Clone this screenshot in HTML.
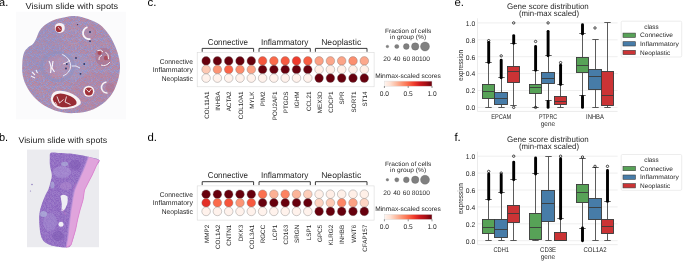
<!DOCTYPE html>
<html><head><meta charset="utf-8"><style>
html,body{margin:0;padding:0;background:#fff;width:685px;height:264px;overflow:hidden;}
svg{display:block;font-family:"Liberation Sans", sans-serif;will-change:transform;text-rendering:geometricPrecision;}
</style></head><body>
<svg width="685" height="264" viewBox="0 0 685 264">
<defs>
<linearGradient id="reds" x1="0" x2="1" y1="0" y2="0">
<stop offset="0" stop-color="#fff5f0"/><stop offset="0.125" stop-color="#fee0d2"/><stop offset="0.25" stop-color="#fcbba1"/>
<stop offset="0.375" stop-color="#fc9272"/><stop offset="0.5" stop-color="#fb6a4a"/><stop offset="0.625" stop-color="#ef3b2c"/>
<stop offset="0.75" stop-color="#cb181d"/><stop offset="0.875" stop-color="#a50f15"/><stop offset="1" stop-color="#67000d"/>
</linearGradient>
<pattern id="spots" patternUnits="userSpaceOnUse" width="16" height="16" x="0" y="0"><rect width="16" height="16" fill="#ae96bc"/><rect x="0" y="0" width="1" height="1" fill="#b88aa4"/><rect x="1" y="0" width="1" height="1" fill="#a690b8"/><rect x="2" y="0" width="1" height="1" fill="#a09ac8"/><rect x="3" y="0" width="1" height="1" fill="#9490c8"/><rect x="4" y="0" width="1" height="1" fill="#b4849e"/><rect x="5" y="0" width="1" height="1" fill="#b4849e"/><rect x="6" y="0" width="1" height="1" fill="#b88aa4"/><rect x="7" y="0" width="1" height="1" fill="#9490c8"/><rect x="8" y="0" width="1" height="1" fill="#ac90b0"/><rect x="9" y="0" width="1" height="1" fill="#9490c8"/><rect x="10" y="0" width="1" height="1" fill="#b4849e"/><rect x="11" y="0" width="1" height="1" fill="#a09ac8"/><rect x="12" y="0" width="1" height="1" fill="#a09ac8"/><rect x="13" y="0" width="1" height="1" fill="#b4849e"/><rect x="14" y="0" width="1" height="1" fill="#ac90b0"/><rect x="15" y="0" width="1" height="1" fill="#b4849e"/><rect x="0" y="1" width="1" height="1" fill="#a09ac8"/><rect x="1" y="1" width="1" height="1" fill="#9490c8"/><rect x="2" y="1" width="1" height="1" fill="#b4849e"/><rect x="3" y="1" width="1" height="1" fill="#ac90b0"/><rect x="4" y="1" width="1" height="1" fill="#9490c8"/><rect x="5" y="1" width="1" height="1" fill="#a09ac8"/><rect x="6" y="1" width="1" height="1" fill="#9490c8"/><rect x="7" y="1" width="1" height="1" fill="#ac90b0"/><rect x="8" y="1" width="1" height="1" fill="#9490c8"/><rect x="9" y="1" width="1" height="1" fill="#a690b8"/><rect x="10" y="1" width="1" height="1" fill="#9490c4"/><rect x="11" y="1" width="1" height="1" fill="#a09ac8"/><rect x="12" y="1" width="1" height="1" fill="#a690b8"/><rect x="13" y="1" width="1" height="1" fill="#b4849e"/><rect x="14" y="1" width="1" height="1" fill="#9490c4"/><rect x="15" y="1" width="1" height="1" fill="#a690b8"/><rect x="0" y="2" width="1" height="1" fill="#b4849e"/><rect x="1" y="2" width="1" height="1" fill="#ac90b0"/><rect x="2" y="2" width="1" height="1" fill="#b88aa4"/><rect x="3" y="2" width="1" height="1" fill="#b4849e"/><rect x="4" y="2" width="1" height="1" fill="#b4849e"/><rect x="5" y="2" width="1" height="1" fill="#9490c8"/><rect x="6" y="2" width="1" height="1" fill="#ac90b0"/><rect x="7" y="2" width="1" height="1" fill="#ae8cac"/><rect x="8" y="2" width="1" height="1" fill="#a09ac8"/><rect x="9" y="2" width="1" height="1" fill="#b88aa4"/><rect x="10" y="2" width="1" height="1" fill="#ae8cac"/><rect x="11" y="2" width="1" height="1" fill="#ae8cac"/><rect x="12" y="2" width="1" height="1" fill="#b88aa4"/><rect x="13" y="2" width="1" height="1" fill="#9490c4"/><rect x="14" y="2" width="1" height="1" fill="#ac90b0"/><rect x="15" y="2" width="1" height="1" fill="#a690b8"/><rect x="0" y="3" width="1" height="1" fill="#ac90b0"/><rect x="1" y="3" width="1" height="1" fill="#b4849e"/><rect x="2" y="3" width="1" height="1" fill="#9490c4"/><rect x="3" y="3" width="1" height="1" fill="#ae8cac"/><rect x="4" y="3" width="1" height="1" fill="#b88aa4"/><rect x="5" y="3" width="1" height="1" fill="#ae8cac"/><rect x="6" y="3" width="1" height="1" fill="#9490c4"/><rect x="7" y="3" width="1" height="1" fill="#b4849e"/><rect x="8" y="3" width="1" height="1" fill="#b4849e"/><rect x="9" y="3" width="1" height="1" fill="#a09ac8"/><rect x="10" y="3" width="1" height="1" fill="#a690b8"/><rect x="11" y="3" width="1" height="1" fill="#b88aa4"/><rect x="12" y="3" width="1" height="1" fill="#a690b8"/><rect x="13" y="3" width="1" height="1" fill="#ae8cac"/><rect x="14" y="3" width="1" height="1" fill="#a09ac8"/><rect x="15" y="3" width="1" height="1" fill="#9490c8"/><rect x="0" y="4" width="1" height="1" fill="#b4849e"/><rect x="1" y="4" width="1" height="1" fill="#b88aa4"/><rect x="2" y="4" width="1" height="1" fill="#b88aa4"/><rect x="3" y="4" width="1" height="1" fill="#b88aa4"/><rect x="4" y="4" width="1" height="1" fill="#ae8cac"/><rect x="5" y="4" width="1" height="1" fill="#ae8cac"/><rect x="6" y="4" width="1" height="1" fill="#b4849e"/><rect x="7" y="4" width="1" height="1" fill="#b4849e"/><rect x="8" y="4" width="1" height="1" fill="#9490c4"/><rect x="9" y="4" width="1" height="1" fill="#ae8cac"/><rect x="10" y="4" width="1" height="1" fill="#b4849e"/><rect x="11" y="4" width="1" height="1" fill="#9490c8"/><rect x="12" y="4" width="1" height="1" fill="#9490c4"/><rect x="13" y="4" width="1" height="1" fill="#ae8cac"/><rect x="14" y="4" width="1" height="1" fill="#9490c4"/><rect x="15" y="4" width="1" height="1" fill="#a09ac8"/><rect x="0" y="5" width="1" height="1" fill="#b88aa4"/><rect x="1" y="5" width="1" height="1" fill="#9490c8"/><rect x="2" y="5" width="1" height="1" fill="#ae8cac"/><rect x="3" y="5" width="1" height="1" fill="#b88aa4"/><rect x="4" y="5" width="1" height="1" fill="#a690b8"/><rect x="5" y="5" width="1" height="1" fill="#b4849e"/><rect x="6" y="5" width="1" height="1" fill="#ae8cac"/><rect x="7" y="5" width="1" height="1" fill="#9490c8"/><rect x="8" y="5" width="1" height="1" fill="#ac90b0"/><rect x="9" y="5" width="1" height="1" fill="#9490c4"/><rect x="10" y="5" width="1" height="1" fill="#a690b8"/><rect x="11" y="5" width="1" height="1" fill="#ac90b0"/><rect x="12" y="5" width="1" height="1" fill="#a09ac8"/><rect x="13" y="5" width="1" height="1" fill="#a09ac8"/><rect x="14" y="5" width="1" height="1" fill="#ae8cac"/><rect x="15" y="5" width="1" height="1" fill="#b4849e"/><rect x="0" y="6" width="1" height="1" fill="#a690b8"/><rect x="1" y="6" width="1" height="1" fill="#ae8cac"/><rect x="2" y="6" width="1" height="1" fill="#a09ac8"/><rect x="3" y="6" width="1" height="1" fill="#9490c4"/><rect x="4" y="6" width="1" height="1" fill="#a690b8"/><rect x="5" y="6" width="1" height="1" fill="#a09ac8"/><rect x="6" y="6" width="1" height="1" fill="#9490c4"/><rect x="7" y="6" width="1" height="1" fill="#a09ac8"/><rect x="8" y="6" width="1" height="1" fill="#b88aa4"/><rect x="9" y="6" width="1" height="1" fill="#a09ac8"/><rect x="10" y="6" width="1" height="1" fill="#ac90b0"/><rect x="11" y="6" width="1" height="1" fill="#a690b8"/><rect x="12" y="6" width="1" height="1" fill="#b4849e"/><rect x="13" y="6" width="1" height="1" fill="#a690b8"/><rect x="14" y="6" width="1" height="1" fill="#a690b8"/><rect x="15" y="6" width="1" height="1" fill="#ac90b0"/><rect x="0" y="7" width="1" height="1" fill="#ac90b0"/><rect x="1" y="7" width="1" height="1" fill="#9490c8"/><rect x="2" y="7" width="1" height="1" fill="#ae8cac"/><rect x="3" y="7" width="1" height="1" fill="#a690b8"/><rect x="4" y="7" width="1" height="1" fill="#9490c4"/><rect x="5" y="7" width="1" height="1" fill="#9490c4"/><rect x="6" y="7" width="1" height="1" fill="#9490c8"/><rect x="7" y="7" width="1" height="1" fill="#a690b8"/><rect x="8" y="7" width="1" height="1" fill="#a09ac8"/><rect x="9" y="7" width="1" height="1" fill="#b88aa4"/><rect x="10" y="7" width="1" height="1" fill="#b88aa4"/><rect x="11" y="7" width="1" height="1" fill="#a690b8"/><rect x="12" y="7" width="1" height="1" fill="#9490c8"/><rect x="13" y="7" width="1" height="1" fill="#ae8cac"/><rect x="14" y="7" width="1" height="1" fill="#a09ac8"/><rect x="15" y="7" width="1" height="1" fill="#a09ac8"/><rect x="0" y="8" width="1" height="1" fill="#a09ac8"/><rect x="1" y="8" width="1" height="1" fill="#a09ac8"/><rect x="2" y="8" width="1" height="1" fill="#b4849e"/><rect x="3" y="8" width="1" height="1" fill="#ae8cac"/><rect x="4" y="8" width="1" height="1" fill="#a09ac8"/><rect x="5" y="8" width="1" height="1" fill="#9490c8"/><rect x="6" y="8" width="1" height="1" fill="#ac90b0"/><rect x="7" y="8" width="1" height="1" fill="#b4849e"/><rect x="8" y="8" width="1" height="1" fill="#ac90b0"/><rect x="9" y="8" width="1" height="1" fill="#ae8cac"/><rect x="10" y="8" width="1" height="1" fill="#a690b8"/><rect x="11" y="8" width="1" height="1" fill="#b4849e"/><rect x="12" y="8" width="1" height="1" fill="#b88aa4"/><rect x="13" y="8" width="1" height="1" fill="#9490c8"/><rect x="14" y="8" width="1" height="1" fill="#b4849e"/><rect x="15" y="8" width="1" height="1" fill="#9490c8"/><rect x="0" y="9" width="1" height="1" fill="#a690b8"/><rect x="1" y="9" width="1" height="1" fill="#b4849e"/><rect x="2" y="9" width="1" height="1" fill="#b88aa4"/><rect x="3" y="9" width="1" height="1" fill="#9490c8"/><rect x="4" y="9" width="1" height="1" fill="#b4849e"/><rect x="5" y="9" width="1" height="1" fill="#ac90b0"/><rect x="6" y="9" width="1" height="1" fill="#a09ac8"/><rect x="7" y="9" width="1" height="1" fill="#a690b8"/><rect x="8" y="9" width="1" height="1" fill="#9490c4"/><rect x="9" y="9" width="1" height="1" fill="#b88aa4"/><rect x="10" y="9" width="1" height="1" fill="#b88aa4"/><rect x="11" y="9" width="1" height="1" fill="#ae8cac"/><rect x="12" y="9" width="1" height="1" fill="#b4849e"/><rect x="13" y="9" width="1" height="1" fill="#b4849e"/><rect x="14" y="9" width="1" height="1" fill="#ae8cac"/><rect x="15" y="9" width="1" height="1" fill="#ae8cac"/><rect x="0" y="10" width="1" height="1" fill="#ae8cac"/><rect x="1" y="10" width="1" height="1" fill="#ae8cac"/><rect x="2" y="10" width="1" height="1" fill="#9490c4"/><rect x="3" y="10" width="1" height="1" fill="#b4849e"/><rect x="4" y="10" width="1" height="1" fill="#a690b8"/><rect x="5" y="10" width="1" height="1" fill="#b4849e"/><rect x="6" y="10" width="1" height="1" fill="#b88aa4"/><rect x="7" y="10" width="1" height="1" fill="#9490c4"/><rect x="8" y="10" width="1" height="1" fill="#ae8cac"/><rect x="9" y="10" width="1" height="1" fill="#a690b8"/><rect x="10" y="10" width="1" height="1" fill="#9490c8"/><rect x="11" y="10" width="1" height="1" fill="#ac90b0"/><rect x="12" y="10" width="1" height="1" fill="#b88aa4"/><rect x="13" y="10" width="1" height="1" fill="#a690b8"/><rect x="14" y="10" width="1" height="1" fill="#9490c8"/><rect x="15" y="10" width="1" height="1" fill="#9490c4"/><rect x="0" y="11" width="1" height="1" fill="#b4849e"/><rect x="1" y="11" width="1" height="1" fill="#9490c4"/><rect x="2" y="11" width="1" height="1" fill="#b88aa4"/><rect x="3" y="11" width="1" height="1" fill="#a690b8"/><rect x="4" y="11" width="1" height="1" fill="#b88aa4"/><rect x="5" y="11" width="1" height="1" fill="#ac90b0"/><rect x="6" y="11" width="1" height="1" fill="#b88aa4"/><rect x="7" y="11" width="1" height="1" fill="#ac90b0"/><rect x="8" y="11" width="1" height="1" fill="#ac90b0"/><rect x="9" y="11" width="1" height="1" fill="#ac90b0"/><rect x="10" y="11" width="1" height="1" fill="#a09ac8"/><rect x="11" y="11" width="1" height="1" fill="#ac90b0"/><rect x="12" y="11" width="1" height="1" fill="#ac90b0"/><rect x="13" y="11" width="1" height="1" fill="#ae8cac"/><rect x="14" y="11" width="1" height="1" fill="#b88aa4"/><rect x="15" y="11" width="1" height="1" fill="#9490c8"/><rect x="0" y="12" width="1" height="1" fill="#9490c8"/><rect x="1" y="12" width="1" height="1" fill="#9490c4"/><rect x="2" y="12" width="1" height="1" fill="#ae8cac"/><rect x="3" y="12" width="1" height="1" fill="#9490c4"/><rect x="4" y="12" width="1" height="1" fill="#ac90b0"/><rect x="5" y="12" width="1" height="1" fill="#b88aa4"/><rect x="6" y="12" width="1" height="1" fill="#ae8cac"/><rect x="7" y="12" width="1" height="1" fill="#b88aa4"/><rect x="8" y="12" width="1" height="1" fill="#b88aa4"/><rect x="9" y="12" width="1" height="1" fill="#b4849e"/><rect x="10" y="12" width="1" height="1" fill="#ac90b0"/><rect x="11" y="12" width="1" height="1" fill="#b4849e"/><rect x="12" y="12" width="1" height="1" fill="#ac90b0"/><rect x="13" y="12" width="1" height="1" fill="#ae8cac"/><rect x="14" y="12" width="1" height="1" fill="#ac90b0"/><rect x="15" y="12" width="1" height="1" fill="#b88aa4"/><rect x="0" y="13" width="1" height="1" fill="#ac90b0"/><rect x="1" y="13" width="1" height="1" fill="#ae8cac"/><rect x="2" y="13" width="1" height="1" fill="#9490c8"/><rect x="3" y="13" width="1" height="1" fill="#ae8cac"/><rect x="4" y="13" width="1" height="1" fill="#b88aa4"/><rect x="5" y="13" width="1" height="1" fill="#b4849e"/><rect x="6" y="13" width="1" height="1" fill="#b4849e"/><rect x="7" y="13" width="1" height="1" fill="#a09ac8"/><rect x="8" y="13" width="1" height="1" fill="#ac90b0"/><rect x="9" y="13" width="1" height="1" fill="#ae8cac"/><rect x="10" y="13" width="1" height="1" fill="#a690b8"/><rect x="11" y="13" width="1" height="1" fill="#a09ac8"/><rect x="12" y="13" width="1" height="1" fill="#b88aa4"/><rect x="13" y="13" width="1" height="1" fill="#b4849e"/><rect x="14" y="13" width="1" height="1" fill="#a09ac8"/><rect x="15" y="13" width="1" height="1" fill="#ae8cac"/><rect x="0" y="14" width="1" height="1" fill="#a09ac8"/><rect x="1" y="14" width="1" height="1" fill="#b4849e"/><rect x="2" y="14" width="1" height="1" fill="#a690b8"/><rect x="3" y="14" width="1" height="1" fill="#a690b8"/><rect x="4" y="14" width="1" height="1" fill="#a690b8"/><rect x="5" y="14" width="1" height="1" fill="#9490c8"/><rect x="6" y="14" width="1" height="1" fill="#a690b8"/><rect x="7" y="14" width="1" height="1" fill="#ae8cac"/><rect x="8" y="14" width="1" height="1" fill="#a690b8"/><rect x="9" y="14" width="1" height="1" fill="#ae8cac"/><rect x="10" y="14" width="1" height="1" fill="#b88aa4"/><rect x="11" y="14" width="1" height="1" fill="#a690b8"/><rect x="12" y="14" width="1" height="1" fill="#a690b8"/><rect x="13" y="14" width="1" height="1" fill="#9490c8"/><rect x="14" y="14" width="1" height="1" fill="#9490c8"/><rect x="15" y="14" width="1" height="1" fill="#b4849e"/><rect x="0" y="15" width="1" height="1" fill="#a690b8"/><rect x="1" y="15" width="1" height="1" fill="#a09ac8"/><rect x="2" y="15" width="1" height="1" fill="#ac90b0"/><rect x="3" y="15" width="1" height="1" fill="#ac90b0"/><rect x="4" y="15" width="1" height="1" fill="#9490c8"/><rect x="5" y="15" width="1" height="1" fill="#9490c4"/><rect x="6" y="15" width="1" height="1" fill="#ac90b0"/><rect x="7" y="15" width="1" height="1" fill="#9490c4"/><rect x="8" y="15" width="1" height="1" fill="#ac90b0"/><rect x="9" y="15" width="1" height="1" fill="#b88aa4"/><rect x="10" y="15" width="1" height="1" fill="#9490c4"/><rect x="11" y="15" width="1" height="1" fill="#a09ac8"/><rect x="12" y="15" width="1" height="1" fill="#a690b8"/><rect x="13" y="15" width="1" height="1" fill="#9490c8"/><rect x="14" y="15" width="1" height="1" fill="#b88aa4"/><rect x="15" y="15" width="1" height="1" fill="#ae8cac"/></pattern><pattern id="spotsB" patternUnits="userSpaceOnUse" width="20" height="20" x="0" y="0"><rect width="20" height="20" fill="#8c6cc2"/><rect x="0" y="0" width="1" height="1" fill="#9070c2"/><rect x="1" y="0" width="1" height="1" fill="#9872c4"/><rect x="2" y="0" width="1" height="1" fill="#9872c4"/><rect x="3" y="0" width="1" height="1" fill="#8e68c0"/><rect x="4" y="0" width="1" height="1" fill="#9c7cc8"/><rect x="5" y="0" width="1" height="1" fill="#9872c4"/><rect x="6" y="0" width="1" height="1" fill="#8e68c0"/><rect x="7" y="0" width="1" height="1" fill="#9872c4"/><rect x="8" y="0" width="1" height="1" fill="#9872c4"/><rect x="9" y="0" width="1" height="1" fill="#9872c4"/><rect x="10" y="0" width="1" height="1" fill="#9c7cc8"/><rect x="11" y="0" width="1" height="1" fill="#9470c4"/><rect x="12" y="0" width="1" height="1" fill="#8e68c0"/><rect x="13" y="0" width="1" height="1" fill="#9470c4"/><rect x="14" y="0" width="1" height="1" fill="#9c7cc8"/><rect x="15" y="0" width="1" height="1" fill="#9470c4"/><rect x="16" y="0" width="1" height="1" fill="#8e68c0"/><rect x="17" y="0" width="1" height="1" fill="#8c66be"/><rect x="18" y="0" width="1" height="1" fill="#8c66be"/><rect x="19" y="0" width="1" height="1" fill="#9a78c8"/><rect x="0" y="1" width="1" height="1" fill="#8e68c0"/><rect x="1" y="1" width="1" height="1" fill="#9470c4"/><rect x="2" y="1" width="1" height="1" fill="#9c7cc8"/><rect x="3" y="1" width="1" height="1" fill="#8e68c0"/><rect x="4" y="1" width="1" height="1" fill="#9470c4"/><rect x="5" y="1" width="1" height="1" fill="#9c7cc8"/><rect x="6" y="1" width="1" height="1" fill="#9470c4"/><rect x="7" y="1" width="1" height="1" fill="#8c66be"/><rect x="8" y="1" width="1" height="1" fill="#9a78c8"/><rect x="9" y="1" width="1" height="1" fill="#9c7cc8"/><rect x="10" y="1" width="1" height="1" fill="#9c7cc8"/><rect x="11" y="1" width="1" height="1" fill="#8c66be"/><rect x="12" y="1" width="1" height="1" fill="#9a78c8"/><rect x="13" y="1" width="1" height="1" fill="#8c66be"/><rect x="14" y="1" width="1" height="1" fill="#9c7cc8"/><rect x="15" y="1" width="1" height="1" fill="#9872c4"/><rect x="16" y="1" width="1" height="1" fill="#9070c2"/><rect x="17" y="1" width="1" height="1" fill="#9470c4"/><rect x="18" y="1" width="1" height="1" fill="#9070c2"/><rect x="19" y="1" width="1" height="1" fill="#9c7cc8"/><rect x="0" y="2" width="1" height="1" fill="#9470c4"/><rect x="1" y="2" width="1" height="1" fill="#9470c4"/><rect x="2" y="2" width="1" height="1" fill="#8c66be"/><rect x="3" y="2" width="1" height="1" fill="#9070c2"/><rect x="4" y="2" width="1" height="1" fill="#9470c4"/><rect x="5" y="2" width="1" height="1" fill="#8c66be"/><rect x="6" y="2" width="1" height="1" fill="#9a78c8"/><rect x="7" y="2" width="1" height="1" fill="#9470c4"/><rect x="8" y="2" width="1" height="1" fill="#9872c4"/><rect x="9" y="2" width="1" height="1" fill="#9470c4"/><rect x="10" y="2" width="1" height="1" fill="#9872c4"/><rect x="11" y="2" width="1" height="1" fill="#9a78c8"/><rect x="12" y="2" width="1" height="1" fill="#9872c4"/><rect x="13" y="2" width="1" height="1" fill="#9c7cc8"/><rect x="14" y="2" width="1" height="1" fill="#8c66be"/><rect x="15" y="2" width="1" height="1" fill="#9470c4"/><rect x="16" y="2" width="1" height="1" fill="#9070c2"/><rect x="17" y="2" width="1" height="1" fill="#9c7cc8"/><rect x="18" y="2" width="1" height="1" fill="#9872c4"/><rect x="19" y="2" width="1" height="1" fill="#8c66be"/><rect x="0" y="3" width="1" height="1" fill="#9872c4"/><rect x="1" y="3" width="1" height="1" fill="#9070c2"/><rect x="2" y="3" width="1" height="1" fill="#9070c2"/><rect x="3" y="3" width="1" height="1" fill="#9470c4"/><rect x="4" y="3" width="1" height="1" fill="#9070c2"/><rect x="5" y="3" width="1" height="1" fill="#8c66be"/><rect x="6" y="3" width="1" height="1" fill="#9470c4"/><rect x="7" y="3" width="1" height="1" fill="#9470c4"/><rect x="8" y="3" width="1" height="1" fill="#9470c4"/><rect x="9" y="3" width="1" height="1" fill="#9470c4"/><rect x="10" y="3" width="1" height="1" fill="#8e68c0"/><rect x="11" y="3" width="1" height="1" fill="#9470c4"/><rect x="12" y="3" width="1" height="1" fill="#9c7cc8"/><rect x="13" y="3" width="1" height="1" fill="#9c7cc8"/><rect x="14" y="3" width="1" height="1" fill="#8e68c0"/><rect x="15" y="3" width="1" height="1" fill="#9070c2"/><rect x="16" y="3" width="1" height="1" fill="#9470c4"/><rect x="17" y="3" width="1" height="1" fill="#9a78c8"/><rect x="18" y="3" width="1" height="1" fill="#9470c4"/><rect x="19" y="3" width="1" height="1" fill="#9470c4"/><rect x="0" y="4" width="1" height="1" fill="#8c66be"/><rect x="1" y="4" width="1" height="1" fill="#9470c4"/><rect x="2" y="4" width="1" height="1" fill="#9470c4"/><rect x="3" y="4" width="1" height="1" fill="#9a78c8"/><rect x="4" y="4" width="1" height="1" fill="#9a78c8"/><rect x="5" y="4" width="1" height="1" fill="#8e68c0"/><rect x="6" y="4" width="1" height="1" fill="#9872c4"/><rect x="7" y="4" width="1" height="1" fill="#9a78c8"/><rect x="8" y="4" width="1" height="1" fill="#9872c4"/><rect x="9" y="4" width="1" height="1" fill="#9070c2"/><rect x="10" y="4" width="1" height="1" fill="#9a78c8"/><rect x="11" y="4" width="1" height="1" fill="#9070c2"/><rect x="12" y="4" width="1" height="1" fill="#9872c4"/><rect x="13" y="4" width="1" height="1" fill="#9c7cc8"/><rect x="14" y="4" width="1" height="1" fill="#9470c4"/><rect x="15" y="4" width="1" height="1" fill="#9470c4"/><rect x="16" y="4" width="1" height="1" fill="#9a78c8"/><rect x="17" y="4" width="1" height="1" fill="#8e68c0"/><rect x="18" y="4" width="1" height="1" fill="#9872c4"/><rect x="19" y="4" width="1" height="1" fill="#9070c2"/><rect x="0" y="5" width="1" height="1" fill="#9470c4"/><rect x="1" y="5" width="1" height="1" fill="#9a78c8"/><rect x="2" y="5" width="1" height="1" fill="#8e68c0"/><rect x="3" y="5" width="1" height="1" fill="#9470c4"/><rect x="4" y="5" width="1" height="1" fill="#9a78c8"/><rect x="5" y="5" width="1" height="1" fill="#9470c4"/><rect x="6" y="5" width="1" height="1" fill="#8c66be"/><rect x="7" y="5" width="1" height="1" fill="#9470c4"/><rect x="8" y="5" width="1" height="1" fill="#9a78c8"/><rect x="9" y="5" width="1" height="1" fill="#9470c4"/><rect x="10" y="5" width="1" height="1" fill="#9c7cc8"/><rect x="11" y="5" width="1" height="1" fill="#8e68c0"/><rect x="12" y="5" width="1" height="1" fill="#9470c4"/><rect x="13" y="5" width="1" height="1" fill="#9070c2"/><rect x="14" y="5" width="1" height="1" fill="#9a78c8"/><rect x="15" y="5" width="1" height="1" fill="#9872c4"/><rect x="16" y="5" width="1" height="1" fill="#8e68c0"/><rect x="17" y="5" width="1" height="1" fill="#8c66be"/><rect x="18" y="5" width="1" height="1" fill="#9470c4"/><rect x="19" y="5" width="1" height="1" fill="#9872c4"/><rect x="0" y="6" width="1" height="1" fill="#9a78c8"/><rect x="1" y="6" width="1" height="1" fill="#8e68c0"/><rect x="2" y="6" width="1" height="1" fill="#9872c4"/><rect x="3" y="6" width="1" height="1" fill="#8c66be"/><rect x="4" y="6" width="1" height="1" fill="#9a78c8"/><rect x="5" y="6" width="1" height="1" fill="#9a78c8"/><rect x="6" y="6" width="1" height="1" fill="#8c66be"/><rect x="7" y="6" width="1" height="1" fill="#9a78c8"/><rect x="8" y="6" width="1" height="1" fill="#9c7cc8"/><rect x="9" y="6" width="1" height="1" fill="#9872c4"/><rect x="10" y="6" width="1" height="1" fill="#9a78c8"/><rect x="11" y="6" width="1" height="1" fill="#9470c4"/><rect x="12" y="6" width="1" height="1" fill="#8e68c0"/><rect x="13" y="6" width="1" height="1" fill="#9a78c8"/><rect x="14" y="6" width="1" height="1" fill="#8e68c0"/><rect x="15" y="6" width="1" height="1" fill="#8e68c0"/><rect x="16" y="6" width="1" height="1" fill="#8e68c0"/><rect x="17" y="6" width="1" height="1" fill="#8c66be"/><rect x="18" y="6" width="1" height="1" fill="#9c7cc8"/><rect x="19" y="6" width="1" height="1" fill="#8c66be"/><rect x="0" y="7" width="1" height="1" fill="#9c7cc8"/><rect x="1" y="7" width="1" height="1" fill="#9470c4"/><rect x="2" y="7" width="1" height="1" fill="#9070c2"/><rect x="3" y="7" width="1" height="1" fill="#9c7cc8"/><rect x="4" y="7" width="1" height="1" fill="#9070c2"/><rect x="5" y="7" width="1" height="1" fill="#9a78c8"/><rect x="6" y="7" width="1" height="1" fill="#8c66be"/><rect x="7" y="7" width="1" height="1" fill="#8c66be"/><rect x="8" y="7" width="1" height="1" fill="#9470c4"/><rect x="9" y="7" width="1" height="1" fill="#8c66be"/><rect x="10" y="7" width="1" height="1" fill="#9872c4"/><rect x="11" y="7" width="1" height="1" fill="#9070c2"/><rect x="12" y="7" width="1" height="1" fill="#9470c4"/><rect x="13" y="7" width="1" height="1" fill="#8e68c0"/><rect x="14" y="7" width="1" height="1" fill="#9872c4"/><rect x="15" y="7" width="1" height="1" fill="#8e68c0"/><rect x="16" y="7" width="1" height="1" fill="#9470c4"/><rect x="17" y="7" width="1" height="1" fill="#9a78c8"/><rect x="18" y="7" width="1" height="1" fill="#9070c2"/><rect x="19" y="7" width="1" height="1" fill="#9872c4"/><rect x="0" y="8" width="1" height="1" fill="#8e68c0"/><rect x="1" y="8" width="1" height="1" fill="#9470c4"/><rect x="2" y="8" width="1" height="1" fill="#9070c2"/><rect x="3" y="8" width="1" height="1" fill="#9a78c8"/><rect x="4" y="8" width="1" height="1" fill="#8c66be"/><rect x="5" y="8" width="1" height="1" fill="#9a78c8"/><rect x="6" y="8" width="1" height="1" fill="#8e68c0"/><rect x="7" y="8" width="1" height="1" fill="#9c7cc8"/><rect x="8" y="8" width="1" height="1" fill="#9872c4"/><rect x="9" y="8" width="1" height="1" fill="#9872c4"/><rect x="10" y="8" width="1" height="1" fill="#9a78c8"/><rect x="11" y="8" width="1" height="1" fill="#9c7cc8"/><rect x="12" y="8" width="1" height="1" fill="#8e68c0"/><rect x="13" y="8" width="1" height="1" fill="#9a78c8"/><rect x="14" y="8" width="1" height="1" fill="#9470c4"/><rect x="15" y="8" width="1" height="1" fill="#9470c4"/><rect x="16" y="8" width="1" height="1" fill="#9470c4"/><rect x="17" y="8" width="1" height="1" fill="#8c66be"/><rect x="18" y="8" width="1" height="1" fill="#8e68c0"/><rect x="19" y="8" width="1" height="1" fill="#9a78c8"/><rect x="0" y="9" width="1" height="1" fill="#8c66be"/><rect x="1" y="9" width="1" height="1" fill="#9470c4"/><rect x="2" y="9" width="1" height="1" fill="#9872c4"/><rect x="3" y="9" width="1" height="1" fill="#8e68c0"/><rect x="4" y="9" width="1" height="1" fill="#9470c4"/><rect x="5" y="9" width="1" height="1" fill="#9070c2"/><rect x="6" y="9" width="1" height="1" fill="#9470c4"/><rect x="7" y="9" width="1" height="1" fill="#9c7cc8"/><rect x="8" y="9" width="1" height="1" fill="#9a78c8"/><rect x="9" y="9" width="1" height="1" fill="#8c66be"/><rect x="10" y="9" width="1" height="1" fill="#8c66be"/><rect x="11" y="9" width="1" height="1" fill="#8e68c0"/><rect x="12" y="9" width="1" height="1" fill="#9470c4"/><rect x="13" y="9" width="1" height="1" fill="#9a78c8"/><rect x="14" y="9" width="1" height="1" fill="#9470c4"/><rect x="15" y="9" width="1" height="1" fill="#9872c4"/><rect x="16" y="9" width="1" height="1" fill="#9070c2"/><rect x="17" y="9" width="1" height="1" fill="#8e68c0"/><rect x="18" y="9" width="1" height="1" fill="#9070c2"/><rect x="19" y="9" width="1" height="1" fill="#8e68c0"/><rect x="0" y="10" width="1" height="1" fill="#9a78c8"/><rect x="1" y="10" width="1" height="1" fill="#9a78c8"/><rect x="2" y="10" width="1" height="1" fill="#8c66be"/><rect x="3" y="10" width="1" height="1" fill="#9470c4"/><rect x="4" y="10" width="1" height="1" fill="#9872c4"/><rect x="5" y="10" width="1" height="1" fill="#9070c2"/><rect x="6" y="10" width="1" height="1" fill="#9470c4"/><rect x="7" y="10" width="1" height="1" fill="#9c7cc8"/><rect x="8" y="10" width="1" height="1" fill="#9872c4"/><rect x="9" y="10" width="1" height="1" fill="#9a78c8"/><rect x="10" y="10" width="1" height="1" fill="#9872c4"/><rect x="11" y="10" width="1" height="1" fill="#8e68c0"/><rect x="12" y="10" width="1" height="1" fill="#9070c2"/><rect x="13" y="10" width="1" height="1" fill="#9872c4"/><rect x="14" y="10" width="1" height="1" fill="#8e68c0"/><rect x="15" y="10" width="1" height="1" fill="#8c66be"/><rect x="16" y="10" width="1" height="1" fill="#9470c4"/><rect x="17" y="10" width="1" height="1" fill="#8e68c0"/><rect x="18" y="10" width="1" height="1" fill="#8e68c0"/><rect x="19" y="10" width="1" height="1" fill="#9872c4"/><rect x="0" y="11" width="1" height="1" fill="#9470c4"/><rect x="1" y="11" width="1" height="1" fill="#9470c4"/><rect x="2" y="11" width="1" height="1" fill="#9070c2"/><rect x="3" y="11" width="1" height="1" fill="#9c7cc8"/><rect x="4" y="11" width="1" height="1" fill="#8e68c0"/><rect x="5" y="11" width="1" height="1" fill="#8e68c0"/><rect x="6" y="11" width="1" height="1" fill="#8c66be"/><rect x="7" y="11" width="1" height="1" fill="#9c7cc8"/><rect x="8" y="11" width="1" height="1" fill="#9a78c8"/><rect x="9" y="11" width="1" height="1" fill="#8e68c0"/><rect x="10" y="11" width="1" height="1" fill="#9c7cc8"/><rect x="11" y="11" width="1" height="1" fill="#9470c4"/><rect x="12" y="11" width="1" height="1" fill="#9470c4"/><rect x="13" y="11" width="1" height="1" fill="#9470c4"/><rect x="14" y="11" width="1" height="1" fill="#9c7cc8"/><rect x="15" y="11" width="1" height="1" fill="#9a78c8"/><rect x="16" y="11" width="1" height="1" fill="#9470c4"/><rect x="17" y="11" width="1" height="1" fill="#9a78c8"/><rect x="18" y="11" width="1" height="1" fill="#8c66be"/><rect x="19" y="11" width="1" height="1" fill="#8c66be"/><rect x="0" y="12" width="1" height="1" fill="#8c66be"/><rect x="1" y="12" width="1" height="1" fill="#9c7cc8"/><rect x="2" y="12" width="1" height="1" fill="#9c7cc8"/><rect x="3" y="12" width="1" height="1" fill="#9070c2"/><rect x="4" y="12" width="1" height="1" fill="#9470c4"/><rect x="5" y="12" width="1" height="1" fill="#9c7cc8"/><rect x="6" y="12" width="1" height="1" fill="#9a78c8"/><rect x="7" y="12" width="1" height="1" fill="#8e68c0"/><rect x="8" y="12" width="1" height="1" fill="#8c66be"/><rect x="9" y="12" width="1" height="1" fill="#9470c4"/><rect x="10" y="12" width="1" height="1" fill="#9872c4"/><rect x="11" y="12" width="1" height="1" fill="#9470c4"/><rect x="12" y="12" width="1" height="1" fill="#9a78c8"/><rect x="13" y="12" width="1" height="1" fill="#9a78c8"/><rect x="14" y="12" width="1" height="1" fill="#9872c4"/><rect x="15" y="12" width="1" height="1" fill="#8e68c0"/><rect x="16" y="12" width="1" height="1" fill="#9c7cc8"/><rect x="17" y="12" width="1" height="1" fill="#8e68c0"/><rect x="18" y="12" width="1" height="1" fill="#9c7cc8"/><rect x="19" y="12" width="1" height="1" fill="#9a78c8"/><rect x="0" y="13" width="1" height="1" fill="#9470c4"/><rect x="1" y="13" width="1" height="1" fill="#8c66be"/><rect x="2" y="13" width="1" height="1" fill="#9c7cc8"/><rect x="3" y="13" width="1" height="1" fill="#9a78c8"/><rect x="4" y="13" width="1" height="1" fill="#9a78c8"/><rect x="5" y="13" width="1" height="1" fill="#9c7cc8"/><rect x="6" y="13" width="1" height="1" fill="#9c7cc8"/><rect x="7" y="13" width="1" height="1" fill="#9c7cc8"/><rect x="8" y="13" width="1" height="1" fill="#9470c4"/><rect x="9" y="13" width="1" height="1" fill="#8c66be"/><rect x="10" y="13" width="1" height="1" fill="#9a78c8"/><rect x="11" y="13" width="1" height="1" fill="#9470c4"/><rect x="12" y="13" width="1" height="1" fill="#9c7cc8"/><rect x="13" y="13" width="1" height="1" fill="#8e68c0"/><rect x="14" y="13" width="1" height="1" fill="#9a78c8"/><rect x="15" y="13" width="1" height="1" fill="#9c7cc8"/><rect x="16" y="13" width="1" height="1" fill="#9470c4"/><rect x="17" y="13" width="1" height="1" fill="#9c7cc8"/><rect x="18" y="13" width="1" height="1" fill="#9a78c8"/><rect x="19" y="13" width="1" height="1" fill="#9070c2"/><rect x="0" y="14" width="1" height="1" fill="#8c66be"/><rect x="1" y="14" width="1" height="1" fill="#8c66be"/><rect x="2" y="14" width="1" height="1" fill="#9470c4"/><rect x="3" y="14" width="1" height="1" fill="#9470c4"/><rect x="4" y="14" width="1" height="1" fill="#9872c4"/><rect x="5" y="14" width="1" height="1" fill="#9a78c8"/><rect x="6" y="14" width="1" height="1" fill="#9470c4"/><rect x="7" y="14" width="1" height="1" fill="#9872c4"/><rect x="8" y="14" width="1" height="1" fill="#9a78c8"/><rect x="9" y="14" width="1" height="1" fill="#9470c4"/><rect x="10" y="14" width="1" height="1" fill="#9470c4"/><rect x="11" y="14" width="1" height="1" fill="#8c66be"/><rect x="12" y="14" width="1" height="1" fill="#9c7cc8"/><rect x="13" y="14" width="1" height="1" fill="#9c7cc8"/><rect x="14" y="14" width="1" height="1" fill="#9070c2"/><rect x="15" y="14" width="1" height="1" fill="#8e68c0"/><rect x="16" y="14" width="1" height="1" fill="#9872c4"/><rect x="17" y="14" width="1" height="1" fill="#8e68c0"/><rect x="18" y="14" width="1" height="1" fill="#9c7cc8"/><rect x="19" y="14" width="1" height="1" fill="#9c7cc8"/><rect x="0" y="15" width="1" height="1" fill="#9070c2"/><rect x="1" y="15" width="1" height="1" fill="#9a78c8"/><rect x="2" y="15" width="1" height="1" fill="#9872c4"/><rect x="3" y="15" width="1" height="1" fill="#9070c2"/><rect x="4" y="15" width="1" height="1" fill="#9470c4"/><rect x="5" y="15" width="1" height="1" fill="#9070c2"/><rect x="6" y="15" width="1" height="1" fill="#9470c4"/><rect x="7" y="15" width="1" height="1" fill="#9470c4"/><rect x="8" y="15" width="1" height="1" fill="#9470c4"/><rect x="9" y="15" width="1" height="1" fill="#8e68c0"/><rect x="10" y="15" width="1" height="1" fill="#9470c4"/><rect x="11" y="15" width="1" height="1" fill="#9470c4"/><rect x="12" y="15" width="1" height="1" fill="#9070c2"/><rect x="13" y="15" width="1" height="1" fill="#9470c4"/><rect x="14" y="15" width="1" height="1" fill="#8c66be"/><rect x="15" y="15" width="1" height="1" fill="#8e68c0"/><rect x="16" y="15" width="1" height="1" fill="#9a78c8"/><rect x="17" y="15" width="1" height="1" fill="#9a78c8"/><rect x="18" y="15" width="1" height="1" fill="#9470c4"/><rect x="19" y="15" width="1" height="1" fill="#9470c4"/><rect x="0" y="16" width="1" height="1" fill="#9070c2"/><rect x="1" y="16" width="1" height="1" fill="#9070c2"/><rect x="2" y="16" width="1" height="1" fill="#9470c4"/><rect x="3" y="16" width="1" height="1" fill="#9470c4"/><rect x="4" y="16" width="1" height="1" fill="#9070c2"/><rect x="5" y="16" width="1" height="1" fill="#9a78c8"/><rect x="6" y="16" width="1" height="1" fill="#8e68c0"/><rect x="7" y="16" width="1" height="1" fill="#9a78c8"/><rect x="8" y="16" width="1" height="1" fill="#9470c4"/><rect x="9" y="16" width="1" height="1" fill="#8e68c0"/><rect x="10" y="16" width="1" height="1" fill="#9a78c8"/><rect x="11" y="16" width="1" height="1" fill="#9872c4"/><rect x="12" y="16" width="1" height="1" fill="#8c66be"/><rect x="13" y="16" width="1" height="1" fill="#9a78c8"/><rect x="14" y="16" width="1" height="1" fill="#9070c2"/><rect x="15" y="16" width="1" height="1" fill="#9470c4"/><rect x="16" y="16" width="1" height="1" fill="#8c66be"/><rect x="17" y="16" width="1" height="1" fill="#9470c4"/><rect x="18" y="16" width="1" height="1" fill="#9070c2"/><rect x="19" y="16" width="1" height="1" fill="#8e68c0"/><rect x="0" y="17" width="1" height="1" fill="#9070c2"/><rect x="1" y="17" width="1" height="1" fill="#8c66be"/><rect x="2" y="17" width="1" height="1" fill="#9470c4"/><rect x="3" y="17" width="1" height="1" fill="#8e68c0"/><rect x="4" y="17" width="1" height="1" fill="#9070c2"/><rect x="5" y="17" width="1" height="1" fill="#9c7cc8"/><rect x="6" y="17" width="1" height="1" fill="#9872c4"/><rect x="7" y="17" width="1" height="1" fill="#9a78c8"/><rect x="8" y="17" width="1" height="1" fill="#9c7cc8"/><rect x="9" y="17" width="1" height="1" fill="#8e68c0"/><rect x="10" y="17" width="1" height="1" fill="#9872c4"/><rect x="11" y="17" width="1" height="1" fill="#9872c4"/><rect x="12" y="17" width="1" height="1" fill="#9c7cc8"/><rect x="13" y="17" width="1" height="1" fill="#9070c2"/><rect x="14" y="17" width="1" height="1" fill="#9470c4"/><rect x="15" y="17" width="1" height="1" fill="#9a78c8"/><rect x="16" y="17" width="1" height="1" fill="#9a78c8"/><rect x="17" y="17" width="1" height="1" fill="#9a78c8"/><rect x="18" y="17" width="1" height="1" fill="#9a78c8"/><rect x="19" y="17" width="1" height="1" fill="#9070c2"/><rect x="0" y="18" width="1" height="1" fill="#8c66be"/><rect x="1" y="18" width="1" height="1" fill="#9a78c8"/><rect x="2" y="18" width="1" height="1" fill="#9c7cc8"/><rect x="3" y="18" width="1" height="1" fill="#9070c2"/><rect x="4" y="18" width="1" height="1" fill="#9470c4"/><rect x="5" y="18" width="1" height="1" fill="#9872c4"/><rect x="6" y="18" width="1" height="1" fill="#9872c4"/><rect x="7" y="18" width="1" height="1" fill="#9470c4"/><rect x="8" y="18" width="1" height="1" fill="#8c66be"/><rect x="9" y="18" width="1" height="1" fill="#9c7cc8"/><rect x="10" y="18" width="1" height="1" fill="#8c66be"/><rect x="11" y="18" width="1" height="1" fill="#9c7cc8"/><rect x="12" y="18" width="1" height="1" fill="#9470c4"/><rect x="13" y="18" width="1" height="1" fill="#9c7cc8"/><rect x="14" y="18" width="1" height="1" fill="#9070c2"/><rect x="15" y="18" width="1" height="1" fill="#9872c4"/><rect x="16" y="18" width="1" height="1" fill="#8c66be"/><rect x="17" y="18" width="1" height="1" fill="#8c66be"/><rect x="18" y="18" width="1" height="1" fill="#9470c4"/><rect x="19" y="18" width="1" height="1" fill="#9872c4"/><rect x="0" y="19" width="1" height="1" fill="#9470c4"/><rect x="1" y="19" width="1" height="1" fill="#9470c4"/><rect x="2" y="19" width="1" height="1" fill="#9470c4"/><rect x="3" y="19" width="1" height="1" fill="#8c66be"/><rect x="4" y="19" width="1" height="1" fill="#9470c4"/><rect x="5" y="19" width="1" height="1" fill="#9a78c8"/><rect x="6" y="19" width="1" height="1" fill="#8c66be"/><rect x="7" y="19" width="1" height="1" fill="#8e68c0"/><rect x="8" y="19" width="1" height="1" fill="#9070c2"/><rect x="9" y="19" width="1" height="1" fill="#9070c2"/><rect x="10" y="19" width="1" height="1" fill="#9070c2"/><rect x="11" y="19" width="1" height="1" fill="#8c66be"/><rect x="12" y="19" width="1" height="1" fill="#9070c2"/><rect x="13" y="19" width="1" height="1" fill="#9a78c8"/><rect x="14" y="19" width="1" height="1" fill="#9470c4"/><rect x="15" y="19" width="1" height="1" fill="#8e68c0"/><rect x="16" y="19" width="1" height="1" fill="#9c7cc8"/><rect x="17" y="19" width="1" height="1" fill="#9a78c8"/><rect x="18" y="19" width="1" height="1" fill="#9470c4"/><rect x="19" y="19" width="1" height="1" fill="#9872c4"/></pattern>

<filter id="grain" x="0" y="0" width="100%" height="100%"><feTurbulence type="fractalNoise" baseFrequency="0.9" numOctaves="1" seed="3"/><feColorMatrix type="matrix" values="0 0 0 0 0.9  0 0 0 0 0.6  0 0 0 0 0.8  0 0 0 3 -1.2"/></filter>
</defs>
<text x="-0.9" y="5.9" font-size="11" fill="#000">a.</text>
<text x="71.85" y="9.10" font-size="8.6" text-anchor="middle" fill="#262626" textLength="92.70" lengthAdjust="spacingAndGlyphs" >Visium slide with spots</text>
<rect x="16" y="11.8" width="110" height="107.5" fill="#fbfbfc"/>
<clipPath id="discA"><path d="M74.00 15.90 C79.33 15.85 83.67 17.52 88.00 19.00 C92.33 20.48 96.42 22.05 100.00 24.80 C103.58 27.55 106.92 31.80 109.50 35.50 C112.08 39.20 113.92 43.25 115.50 47.00 C117.08 50.75 118.25 54.50 119.00 58.00 C119.75 61.50 120.17 64.33 120.00 68.00 C119.83 71.67 119.25 75.83 118.00 80.00 C116.75 84.17 115.00 89.08 112.50 93.00 C110.00 96.92 106.75 100.58 103.00 103.50 C99.25 106.42 94.50 108.92 90.00 110.50 C85.50 112.08 80.67 112.70 76.00 113.00 C71.33 113.30 66.67 113.22 62.00 112.30 C57.33 111.38 52.33 109.72 48.00 107.50 C43.67 105.28 39.42 102.25 36.00 99.00 C32.58 95.75 29.70 91.83 27.50 88.00 C25.30 84.17 23.67 80.17 22.80 76.00 C21.93 71.83 22.10 66.83 22.30 63.00 C22.50 59.17 23.05 55.58 24.00 53.00 C24.95 50.42 26.50 49.00 28.00 47.50 C29.50 46.00 31.58 45.58 33.00 44.00 C34.42 42.42 35.42 40.17 36.50 38.00 C37.58 35.83 38.08 33.17 39.50 31.00 C40.92 28.83 42.25 26.95 45.00 25.00 C47.75 23.05 51.17 20.82 56.00 19.30 C60.83 17.78 68.67 15.95 74.00 15.90 Z"/></clipPath>
<g clip-path="url(#discA)">
<rect x="16" y="12" width="110" height="106" fill="url(#spots)"/>
<ellipse cx="40" cy="45" rx="22" ry="26" fill="#8a92c8" opacity="0.22"/>
<ellipse cx="100" cy="95" rx="30" ry="22" fill="#c07890" opacity="0.2"/>
<ellipse cx="72" cy="66" rx="17" ry="14" fill="#98a4d4" opacity="0.25"/>
<ellipse cx="57.5" cy="66.5" rx="16" ry="14.2" fill="none" stroke="#8890c4" stroke-width="2.8" opacity="0.45"/>
<ellipse cx="57" cy="66.5" rx="12" ry="10.5" fill="#c890aa" opacity="0.3"/>
<circle cx="59.8" cy="27.9" r="5" fill="#f6f0f4"/><circle cx="58.8" cy="28.9" r="3.1" fill="#a4343c"/><path d="M58 27 L60.5 30" stroke="#f0e6ea" stroke-width="0.7"/>
<circle cx="73.5" cy="37" r="7" fill="none" stroke="#b0a4c8" stroke-width="1.1" opacity="0.35"/>
<circle cx="89.5" cy="33" r="6" fill="#b48aa8" opacity="0.55"/><circle cx="89.5" cy="33" r="6" fill="none" stroke="#c07890" stroke-width="0.9" opacity="0.8"/><path d="M87.5 27.2 A6 6 0 0 0 90.5 38.9" fill="none" stroke="#f8f6fa" stroke-width="1.8"/>
<circle cx="90" cy="31.9" r="1" fill="#2e3c6c"/><circle cx="90" cy="41.2" r="0.9" fill="#2e3c6c"/><circle cx="77.5" cy="24.6" r="0.7" fill="#2e3c6c"/>
<circle cx="88.75" cy="91.25" r="5.6" fill="#f8f0f2"/><circle cx="88.9" cy="91.4" r="4" fill="#a0323a"/><path d="M86.3 89.3 L89 92.2 L91.5 88.8" stroke="#f8f0f2" stroke-width="0.9" fill="none"/>
<path d="M106.5 82 A5.5 5.5 0 0 0 107.5 93" fill="none" stroke="#f6f2f6" stroke-width="1.6"/><circle cx="110" cy="87.5" r="4.5" fill="#b0708a" opacity="0.5"/>
<path d="M96 51 Q102 46 109 49 Q113 57 109 66 Q102 69 97 63 Q94 56 96 51Z" fill="#b06478" opacity="0.45"/><circle cx="99.5" cy="53" r="2" fill="#a83c48" opacity="0.8"/><circle cx="106" cy="58" r="2.2" fill="#a83c48" opacity="0.7"/><path d="M97.5 50.5 Q101 49 103 52 M102 55 Q98 57 99 60 M105.5 52 Q109 54 108.5 59 M110 62 Q106 67 101 65" stroke="#f6f0f4" stroke-width="1" fill="none"/>
<path d="M50.7 99 Q51.5 90.5 60 90.8 Q70 91.5 76.5 96.5 Q82 100.5 80.5 104 Q75.5 109.2 62 109.2 Q51.5 107.5 50.7 99Z" fill="#f8f2f4"/>
<path d="M52.8 99.5 Q53.5 93.5 60.5 93.5 Q68 94 73.5 98 Q78 101.5 76 104.5 Q71 107.5 62 107.3 Q54.5 106 52.8 99.5Z" fill="#982c34"/>
<path d="M57 96.5 L59.5 103 L63.5 99.5 M66.5 96.5 L65 102 L70.5 104.5 M55 102 L57 105" stroke="#f2e6ea" stroke-width="0.9" fill="none"/>
<path d="M49 61 Q52 66 50.5 73 M53 61 L52 68 L54.5 72" stroke="#f4f2fa" stroke-width="1.2" fill="none"/>
<path d="M62.2 54.2 Q70 58 70.8 66 Q70 73 63 76 M63 64 Q67 63 70 60 M72 66 Q76 65 80 68" stroke="#f2f0fa" stroke-width="0.9" fill="none"/>
<path d="M32 72 L35 75 M31 76 L35 78 M36 70 L37.5 73" stroke="#f0eef8" stroke-width="1.1" fill="none"/>
<circle cx="76" cy="58" r="0.9" fill="#2a3868"/>
<circle cx="66.8" cy="64" r="0.9" fill="#2a3868"/>
<circle cx="84.2" cy="64" r="0.9" fill="#2a3868"/>
<circle cx="66" cy="68.5" r="0.9" fill="#2a3868"/>
<circle cx="80.5" cy="73.8" r="0.9" fill="#2a3868"/>
</g>
<text x="-1.1" y="141.3" font-size="11" fill="#000">b.</text>
<text x="62.80" y="142.60" font-size="8.5" text-anchor="middle" fill="#262626" textLength="88.80" lengthAdjust="spacingAndGlyphs" >Visium slide with spots</text>
<rect x="27" y="149.6" width="72" height="97.6" fill="#ebebef"/>
<path d="M50.90 152.80 C52.60 151.97 56.73 152.87 60.00 153.00 C63.27 153.13 67.17 153.27 70.50 153.60 C73.83 153.93 77.03 154.48 80.00 155.00 C82.97 155.52 85.08 155.85 88.30 156.70 C91.52 157.55 98.02 158.47 99.30 160.10 C100.58 161.73 97.18 164.02 96.00 166.50 C94.82 168.98 93.53 172.25 92.20 175.00 C90.87 177.75 89.28 180.50 88.00 183.00 C86.72 185.50 85.33 187.17 84.50 190.00 C83.67 192.83 83.75 196.67 83.00 200.00 C82.25 203.33 80.92 206.67 80.00 210.00 C79.08 213.33 78.25 216.67 77.50 220.00 C76.75 223.33 76.58 225.83 75.50 230.00 C74.42 234.17 72.53 242.10 71.00 245.00 C69.47 247.90 68.47 247.10 66.30 247.40 C64.13 247.70 60.72 247.20 58.00 246.80 C55.28 246.40 52.42 245.97 50.00 245.00 C47.58 244.03 45.08 242.83 43.50 241.00 C41.92 239.17 41.22 237.17 40.50 234.00 C39.78 230.83 39.37 225.50 39.20 222.00 C39.03 218.50 39.12 215.83 39.50 213.00 C39.88 210.17 40.58 207.83 41.50 205.00 C42.42 202.17 43.83 198.67 45.00 196.00 C46.17 193.33 47.58 191.33 48.50 189.00 C49.42 186.67 49.95 184.33 50.50 182.00 C51.05 179.67 51.88 177.67 51.80 175.00 C51.72 172.33 50.33 168.83 50.00 166.00 C49.67 163.17 49.65 160.20 49.80 158.00 C49.95 155.80 49.20 153.63 50.90 152.80 Z" fill="url(#spotsB)"/>
<g opacity="0.45"><ellipse cx="62" cy="172" rx="9" ry="6" fill="#b4a0dc"/><ellipse cx="50" cy="222" rx="7" ry="9" fill="#a894d4"/><ellipse cx="75" cy="165" rx="6" ry="5" fill="#7a56b0"/><ellipse cx="58" cy="236" rx="6" ry="5" fill="#7a56b0"/><ellipse cx="66" cy="186" rx="6" ry="4" fill="#b890d0"/></g>
<path d="M99.3 160.1 L88.3 156.7 C86 163 83.5 170 81 175 C78.5 181 76 186 74.5 190 C73.5 194 73 197 72.5 200 C72 204 71.5 207 70.9 210 C70 217 69.3 224 68.6 230 C68 236 67.2 241 66.4 245 L66.3 247.4 L71 245 L75.5 230 L77.5 220 L80 210 L83 200 L84.5 190 L88 183 L92.2 175 L96 166.5 Z" fill="#e0a4dc"/>
<path d="M88.3 156.7 C86 163 83.5 170 81 175 C78.5 181 76 186 74.5 190 C73.5 194 73 197 72.5 200 C72 204 71.5 207 70.9 210 C70 217 69.3 224 68.6 230 C68 236 67.2 241 66.4 245" fill="none" stroke="#b890d8" stroke-width="1.4" opacity="0.7"/>
<path d="M99.3 160.1 L96 166.5 L92.2 175 L88 183 L84.5 190 L83 200 L80 210 L77.5 220 L75.5 230 L71 245 L66.3 247.4" fill="none" stroke="#e084d0" stroke-width="0.9"/>
<path d="M60.5 196 Q64 193.5 67.5 196.5 Q68.5 203 65.5 208 Q63.5 212 61.5 211 Q62.5 204 60.5 196Z" fill="#eeecf4"/>
<circle cx="61" cy="224.2" r="2.5" fill="#f0eef6"/>
<ellipse cx="43.5" cy="214" rx="3.5" ry="3" fill="#b4c0e0" opacity="0.6"/><ellipse cx="64.6" cy="164" rx="3.5" ry="2.2" fill="#b4c0e0" opacity="0.55"/><ellipse cx="52.5" cy="185" rx="2" ry="3.5" fill="#b4c0e0" opacity="0.5"/>
<path d="M76 183 L73 190 M62 209 L66 215" stroke="#c070c0" stroke-width="0.8" opacity="0.6"/>
<circle cx="32" cy="184.5" r="0.8" fill="#9080c0"/><circle cx="30.5" cy="191" r="0.6" fill="#9080c0"/>
<text x="147.5" y="5.9" font-size="11.4" fill="#000">c.</text>
<text x="192.90" y="63.50" font-size="6.9" text-anchor="end" fill="#262626" textLength="33.20" lengthAdjust="spacingAndGlyphs" >Connective</text>
<text x="192.90" y="72.10" font-size="6.9" text-anchor="end" fill="#262626" textLength="40.20" lengthAdjust="spacingAndGlyphs" >Inflammatory</text>
<text x="192.90" y="80.70" font-size="6.9" text-anchor="end" fill="#262626" textLength="31.10" lengthAdjust="spacingAndGlyphs" >Neoplastic</text>
<rect x="197.2" y="52.60" width="176.9" height="34.2" fill="none" stroke="#d9d9d9" stroke-width="0.6"/>
<circle cx="206.10" cy="60.90" r="4.3" fill="#67000d" stroke="#6e6e6e" stroke-width="0.35"/>
<circle cx="217.40" cy="60.90" r="4.3" fill="#67000d" stroke="#6e6e6e" stroke-width="0.35"/>
<circle cx="228.70" cy="60.90" r="4.3" fill="#67000d" stroke="#6e6e6e" stroke-width="0.35"/>
<circle cx="240.00" cy="60.90" r="4.3" fill="#67000d" stroke="#6e6e6e" stroke-width="0.35"/>
<circle cx="251.30" cy="60.90" r="4.3" fill="#67000d" stroke="#6e6e6e" stroke-width="0.35"/>
<circle cx="262.60" cy="60.90" r="4.3" fill="#f5553c" stroke="#6e6e6e" stroke-width="0.35"/>
<circle cx="273.90" cy="60.90" r="4.3" fill="#fb6a4a" stroke="#6e6e6e" stroke-width="0.35"/>
<circle cx="285.20" cy="60.90" r="4.3" fill="#f75a40" stroke="#6e6e6e" stroke-width="0.35"/>
<circle cx="296.50" cy="60.90" r="4.3" fill="#ee3a2c" stroke="#6e6e6e" stroke-width="0.35"/>
<circle cx="307.80" cy="60.90" r="4.3" fill="#f85d42" stroke="#6e6e6e" stroke-width="0.35"/>
<circle cx="319.10" cy="60.90" r="4.3" fill="#fca083" stroke="#6e6e6e" stroke-width="0.35"/>
<circle cx="330.40" cy="60.90" r="4.3" fill="#fca68a" stroke="#6e6e6e" stroke-width="0.35"/>
<circle cx="341.70" cy="60.90" r="4.3" fill="#fca487" stroke="#6e6e6e" stroke-width="0.35"/>
<circle cx="353.00" cy="60.90" r="4.3" fill="#fc8f6f" stroke="#6e6e6e" stroke-width="0.35"/>
<circle cx="364.30" cy="60.90" r="4.3" fill="#fca88c" stroke="#6e6e6e" stroke-width="0.35"/>
<circle cx="206.10" cy="69.50" r="4.3" fill="#fdc9b4" stroke="#6e6e6e" stroke-width="0.35"/>
<circle cx="217.40" cy="69.50" r="4.3" fill="#fc9474" stroke="#6e6e6e" stroke-width="0.35"/>
<circle cx="228.70" cy="69.50" r="4.3" fill="#fb6347" stroke="#6e6e6e" stroke-width="0.35"/>
<circle cx="240.00" cy="69.50" r="4.3" fill="#fc8b6c" stroke="#6e6e6e" stroke-width="0.35"/>
<circle cx="251.30" cy="69.50" r="4.3" fill="#fca285" stroke="#6e6e6e" stroke-width="0.35"/>
<circle cx="262.60" cy="69.50" r="4.3" fill="#67000d" stroke="#6e6e6e" stroke-width="0.35"/>
<circle cx="273.90" cy="69.50" r="4.3" fill="#67000d" stroke="#6e6e6e" stroke-width="0.35"/>
<circle cx="285.20" cy="69.50" r="4.3" fill="#67000d" stroke="#6e6e6e" stroke-width="0.35"/>
<circle cx="296.50" cy="69.50" r="4.3" fill="#67000d" stroke="#6e6e6e" stroke-width="0.35"/>
<circle cx="307.80" cy="69.50" r="4.3" fill="#67000d" stroke="#6e6e6e" stroke-width="0.35"/>
<circle cx="319.10" cy="69.50" r="4.3" fill="#fff0e8" stroke="#6e6e6e" stroke-width="0.35"/>
<circle cx="330.40" cy="69.50" r="4.3" fill="#feeee6" stroke="#6e6e6e" stroke-width="0.35"/>
<circle cx="341.70" cy="69.50" r="4.3" fill="#fff0e8" stroke="#6e6e6e" stroke-width="0.35"/>
<circle cx="353.00" cy="69.50" r="4.3" fill="#fff0e8" stroke="#6e6e6e" stroke-width="0.35"/>
<circle cx="364.30" cy="69.50" r="4.3" fill="#fff0e8" stroke="#6e6e6e" stroke-width="0.35"/>
<circle cx="206.10" cy="78.10" r="4.3" fill="#fff2ec" stroke="#6e6e6e" stroke-width="0.35"/>
<circle cx="217.40" cy="78.10" r="4.3" fill="#fff2ec" stroke="#6e6e6e" stroke-width="0.35"/>
<circle cx="228.70" cy="78.10" r="4.3" fill="#fff2ec" stroke="#6e6e6e" stroke-width="0.35"/>
<circle cx="240.00" cy="78.10" r="4.3" fill="#fff2ec" stroke="#6e6e6e" stroke-width="0.35"/>
<circle cx="251.30" cy="78.10" r="4.3" fill="#fff2ec" stroke="#6e6e6e" stroke-width="0.35"/>
<circle cx="262.60" cy="78.10" r="4.3" fill="#fff2ec" stroke="#6e6e6e" stroke-width="0.35"/>
<circle cx="273.90" cy="78.10" r="4.3" fill="#fff2ec" stroke="#6e6e6e" stroke-width="0.35"/>
<circle cx="285.20" cy="78.10" r="4.3" fill="#fff2ec" stroke="#6e6e6e" stroke-width="0.35"/>
<circle cx="296.50" cy="78.10" r="4.3" fill="#fff2ec" stroke="#6e6e6e" stroke-width="0.35"/>
<circle cx="307.80" cy="78.10" r="4.3" fill="#fff2ec" stroke="#6e6e6e" stroke-width="0.35"/>
<circle cx="319.10" cy="78.10" r="4.3" fill="#67000d" stroke="#6e6e6e" stroke-width="0.35"/>
<circle cx="330.40" cy="78.10" r="4.3" fill="#67000d" stroke="#6e6e6e" stroke-width="0.35"/>
<circle cx="341.70" cy="78.10" r="4.3" fill="#67000d" stroke="#6e6e6e" stroke-width="0.35"/>
<circle cx="353.00" cy="78.10" r="4.3" fill="#67000d" stroke="#6e6e6e" stroke-width="0.35"/>
<circle cx="364.30" cy="78.10" r="4.3" fill="#67000d" stroke="#6e6e6e" stroke-width="0.35"/>
<path d="M202.2 51.80 V48.40 H253.6 V51.80" fill="none" stroke="#262626" stroke-width="0.9"/>
<text x="227.90" y="44.80" font-size="8.5" text-anchor="middle" fill="#262626" textLength="40.10" lengthAdjust="spacingAndGlyphs" >Connective</text>
<path d="M259.0 51.80 V48.40 H310.3 V51.80" fill="none" stroke="#262626" stroke-width="0.9"/>
<text x="284.65" y="44.80" font-size="8.5" text-anchor="middle" fill="#262626" textLength="47.50" lengthAdjust="spacingAndGlyphs" >Inflammatory</text>
<path d="M315.4 51.80 V48.40 H367.0 V51.80" fill="none" stroke="#262626" stroke-width="0.9"/>
<text x="341.20" y="44.80" font-size="8.5" text-anchor="middle" fill="#262626" textLength="40.00" lengthAdjust="spacingAndGlyphs" >Neoplastic</text>
<text x="208.60" y="91.80" font-size="6.3" text-anchor="end" fill="#262626" transform="rotate(-90 208.60 91.50)">COL11A1</text>
<text x="219.90" y="91.80" font-size="6.3" text-anchor="end" fill="#262626" transform="rotate(-90 219.90 91.50)">INHBA</text>
<text x="231.20" y="91.80" font-size="6.3" text-anchor="end" fill="#262626" transform="rotate(-90 231.20 91.50)">ACTA2</text>
<text x="242.50" y="91.80" font-size="6.3" text-anchor="end" fill="#262626" transform="rotate(-90 242.50 91.50)">COL10A1</text>
<text x="253.80" y="91.80" font-size="6.3" text-anchor="end" fill="#262626" transform="rotate(-90 253.80 91.50)">MYLK</text>
<text x="265.10" y="91.80" font-size="6.3" text-anchor="end" fill="#262626" transform="rotate(-90 265.10 91.50)">PIM2</text>
<text x="276.40" y="91.80" font-size="6.3" text-anchor="end" fill="#262626" transform="rotate(-90 276.40 91.50)">POU2AF1</text>
<text x="287.70" y="91.80" font-size="6.3" text-anchor="end" fill="#262626" transform="rotate(-90 287.70 91.50)">PTGDS</text>
<text x="299.00" y="91.80" font-size="6.3" text-anchor="end" fill="#262626" transform="rotate(-90 299.00 91.50)">IGHM</text>
<text x="310.30" y="91.80" font-size="6.3" text-anchor="end" fill="#262626" transform="rotate(-90 310.30 91.50)">CCL21</text>
<text x="321.60" y="91.80" font-size="6.3" text-anchor="end" fill="#262626" transform="rotate(-90 321.60 91.50)">MEX3D</text>
<text x="332.90" y="91.80" font-size="6.3" text-anchor="end" fill="#262626" transform="rotate(-90 332.90 91.50)">CDCP1</text>
<text x="344.20" y="91.80" font-size="6.3" text-anchor="end" fill="#262626" transform="rotate(-90 344.20 91.50)">SPR</text>
<text x="355.50" y="91.80" font-size="6.3" text-anchor="end" fill="#262626" transform="rotate(-90 355.50 91.50)">SORT1</text>
<text x="366.80" y="91.80" font-size="6.3" text-anchor="end" fill="#262626" transform="rotate(-90 366.80 91.50)">ST14</text>
<text x="408.20" y="32.60" font-size="6.3" text-anchor="middle" fill="#262626" textLength="46.30" lengthAdjust="spacingAndGlyphs" >Fraction of cells</text>
<text x="408.10" y="38.70" font-size="6.3" text-anchor="middle" fill="#262626" textLength="36.20" lengthAdjust="spacingAndGlyphs" >in group (%)</text>
<circle cx="387.4" cy="46.50" r="1.3" fill="#808080" stroke="#595959" stroke-width="0.3"/>
<circle cx="396.8" cy="46.50" r="2.1" fill="#808080" stroke="#595959" stroke-width="0.3"/>
<circle cx="406.3" cy="46.50" r="2.9" fill="#808080" stroke="#595959" stroke-width="0.3"/>
<circle cx="415.2" cy="46.50" r="3.7" fill="#808080" stroke="#595959" stroke-width="0.3"/>
<circle cx="425.0" cy="46.50" r="4.5" fill="#808080" stroke="#595959" stroke-width="0.3"/>
<text x="386.90" y="61.30" font-size="6.6" text-anchor="middle" fill="#262626" >20</text>
<text x="396.80" y="61.30" font-size="6.6" text-anchor="middle" fill="#262626" >40</text>
<text x="406.40" y="61.30" font-size="6.6" text-anchor="middle" fill="#262626" >60</text>
<text x="415.40" y="61.30" font-size="6.6" text-anchor="middle" fill="#262626" >80</text>
<text x="424.40" y="61.30" font-size="6.6" text-anchor="middle" fill="#262626" >100</text>
<text x="408.00" y="78.00" font-size="6.6" text-anchor="middle" fill="#262626" textLength="65.70" lengthAdjust="spacingAndGlyphs" >Minmax-scaled scores</text>
<rect x="384.4" y="81.10" width="47.6" height="5.1" fill="url(#reds)" stroke="#dcdcdc" stroke-width="0.5"/>
<line x1="384.4" y1="86.00" x2="384.4" y2="88.00" stroke="#262626" stroke-width="0.5"/>
<text x="384.40" y="95.80" font-size="6.9" text-anchor="middle" fill="#262626" textLength="9.20" lengthAdjust="spacingAndGlyphs" >0.0</text>
<line x1="408.2" y1="86.00" x2="408.2" y2="88.00" stroke="#262626" stroke-width="0.5"/>
<text x="408.20" y="95.80" font-size="6.9" text-anchor="middle" fill="#262626" textLength="9.20" lengthAdjust="spacingAndGlyphs" >0.5</text>
<line x1="432.0" y1="86.00" x2="432.0" y2="88.00" stroke="#262626" stroke-width="0.5"/>
<text x="432.00" y="95.80" font-size="6.9" text-anchor="middle" fill="#262626" textLength="9.20" lengthAdjust="spacingAndGlyphs" >1.0</text>
<text x="147.5" y="141.3" font-size="11.4" fill="#000">d.</text>
<text x="192.90" y="196.80" font-size="6.9" text-anchor="end" fill="#262626" textLength="33.20" lengthAdjust="spacingAndGlyphs" >Connective</text>
<text x="192.90" y="205.40" font-size="6.9" text-anchor="end" fill="#262626" textLength="40.20" lengthAdjust="spacingAndGlyphs" >Inflammatory</text>
<text x="192.90" y="214.00" font-size="6.9" text-anchor="end" fill="#262626" textLength="31.10" lengthAdjust="spacingAndGlyphs" >Neoplastic</text>
<rect x="197.2" y="185.90" width="176.9" height="34.2" fill="none" stroke="#d9d9d9" stroke-width="0.6"/>
<circle cx="206.10" cy="194.20" r="4.3" fill="#67000d" stroke="#6e6e6e" stroke-width="0.35"/>
<circle cx="217.40" cy="194.20" r="4.3" fill="#67000d" stroke="#6e6e6e" stroke-width="0.35"/>
<circle cx="228.70" cy="194.20" r="4.3" fill="#67000d" stroke="#6e6e6e" stroke-width="0.35"/>
<circle cx="240.00" cy="194.20" r="4.3" fill="#67000d" stroke="#6e6e6e" stroke-width="0.35"/>
<circle cx="251.30" cy="194.20" r="4.3" fill="#67000d" stroke="#6e6e6e" stroke-width="0.35"/>
<circle cx="262.60" cy="194.20" r="4.3" fill="#fb7050" stroke="#6e6e6e" stroke-width="0.35"/>
<circle cx="273.90" cy="194.20" r="4.3" fill="#fcb095" stroke="#6e6e6e" stroke-width="0.35"/>
<circle cx="285.20" cy="194.20" r="4.3" fill="#fc8262" stroke="#6e6e6e" stroke-width="0.35"/>
<circle cx="296.50" cy="194.20" r="4.3" fill="#fcb499" stroke="#6e6e6e" stroke-width="0.35"/>
<circle cx="307.80" cy="194.20" r="4.3" fill="#fdcdb9" stroke="#6e6e6e" stroke-width="0.35"/>
<circle cx="319.10" cy="194.20" r="4.3" fill="#fff0e8" stroke="#6e6e6e" stroke-width="0.35"/>
<circle cx="330.40" cy="194.20" r="4.3" fill="#ffeee6" stroke="#6e6e6e" stroke-width="0.35"/>
<circle cx="341.70" cy="194.20" r="4.3" fill="#fff0e8" stroke="#6e6e6e" stroke-width="0.35"/>
<circle cx="353.00" cy="194.20" r="4.3" fill="#ffefe7" stroke="#6e6e6e" stroke-width="0.35"/>
<circle cx="364.30" cy="194.20" r="4.3" fill="#fff0e8" stroke="#6e6e6e" stroke-width="0.35"/>
<circle cx="206.10" cy="202.80" r="4.3" fill="#e32f27" stroke="#6e6e6e" stroke-width="0.35"/>
<circle cx="217.40" cy="202.80" r="4.3" fill="#fb6c4c" stroke="#6e6e6e" stroke-width="0.35"/>
<circle cx="228.70" cy="202.80" r="4.3" fill="#f6553c" stroke="#6e6e6e" stroke-width="0.35"/>
<circle cx="240.00" cy="202.80" r="4.3" fill="#fc9576" stroke="#6e6e6e" stroke-width="0.35"/>
<circle cx="251.30" cy="202.80" r="4.3" fill="#f7593f" stroke="#6e6e6e" stroke-width="0.35"/>
<circle cx="262.60" cy="202.80" r="4.3" fill="#67000d" stroke="#6e6e6e" stroke-width="0.35"/>
<circle cx="273.90" cy="202.80" r="4.3" fill="#67000d" stroke="#6e6e6e" stroke-width="0.35"/>
<circle cx="285.20" cy="202.80" r="4.3" fill="#67000d" stroke="#6e6e6e" stroke-width="0.35"/>
<circle cx="296.50" cy="202.80" r="4.3" fill="#67000d" stroke="#6e6e6e" stroke-width="0.35"/>
<circle cx="307.80" cy="202.80" r="4.3" fill="#67000d" stroke="#6e6e6e" stroke-width="0.35"/>
<circle cx="319.10" cy="202.80" r="4.3" fill="#fdd3c1" stroke="#6e6e6e" stroke-width="0.35"/>
<circle cx="330.40" cy="202.80" r="4.3" fill="#fdcab5" stroke="#6e6e6e" stroke-width="0.35"/>
<circle cx="341.70" cy="202.80" r="4.3" fill="#fc8565" stroke="#6e6e6e" stroke-width="0.35"/>
<circle cx="353.00" cy="202.80" r="4.3" fill="#fca183" stroke="#6e6e6e" stroke-width="0.35"/>
<circle cx="364.30" cy="202.80" r="4.3" fill="#fdd4c2" stroke="#6e6e6e" stroke-width="0.35"/>
<circle cx="206.10" cy="211.40" r="4.3" fill="#fff2ec" stroke="#6e6e6e" stroke-width="0.35"/>
<circle cx="217.40" cy="211.40" r="4.3" fill="#fff2ec" stroke="#6e6e6e" stroke-width="0.35"/>
<circle cx="228.70" cy="211.40" r="4.3" fill="#fff2ec" stroke="#6e6e6e" stroke-width="0.35"/>
<circle cx="240.00" cy="211.40" r="4.3" fill="#fff2ec" stroke="#6e6e6e" stroke-width="0.35"/>
<circle cx="251.30" cy="211.40" r="4.3" fill="#fff2ec" stroke="#6e6e6e" stroke-width="0.35"/>
<circle cx="262.60" cy="211.40" r="4.3" fill="#fff2ec" stroke="#6e6e6e" stroke-width="0.35"/>
<circle cx="273.90" cy="211.40" r="4.3" fill="#fff2ec" stroke="#6e6e6e" stroke-width="0.35"/>
<circle cx="285.20" cy="211.40" r="4.3" fill="#fff2ec" stroke="#6e6e6e" stroke-width="0.35"/>
<circle cx="296.50" cy="211.40" r="4.3" fill="#fff2ec" stroke="#6e6e6e" stroke-width="0.35"/>
<circle cx="307.80" cy="211.40" r="4.3" fill="#fff2ec" stroke="#6e6e6e" stroke-width="0.35"/>
<circle cx="319.10" cy="211.40" r="4.3" fill="#67000d" stroke="#6e6e6e" stroke-width="0.35"/>
<circle cx="330.40" cy="211.40" r="4.3" fill="#67000d" stroke="#6e6e6e" stroke-width="0.35"/>
<circle cx="341.70" cy="211.40" r="4.3" fill="#67000d" stroke="#6e6e6e" stroke-width="0.35"/>
<circle cx="353.00" cy="211.40" r="4.3" fill="#67000d" stroke="#6e6e6e" stroke-width="0.35"/>
<circle cx="364.30" cy="211.40" r="4.3" fill="#67000d" stroke="#6e6e6e" stroke-width="0.35"/>
<path d="M202.2 185.10 V181.70 H253.6 V185.10" fill="none" stroke="#262626" stroke-width="0.9"/>
<text x="227.90" y="178.10" font-size="8.5" text-anchor="middle" fill="#262626" textLength="40.10" lengthAdjust="spacingAndGlyphs" >Connective</text>
<path d="M259.0 185.10 V181.70 H310.3 V185.10" fill="none" stroke="#262626" stroke-width="0.9"/>
<text x="284.65" y="178.10" font-size="8.5" text-anchor="middle" fill="#262626" textLength="47.50" lengthAdjust="spacingAndGlyphs" >Inflammatory</text>
<path d="M315.4 185.10 V181.70 H367.0 V185.10" fill="none" stroke="#262626" stroke-width="0.9"/>
<text x="341.20" y="178.10" font-size="8.5" text-anchor="middle" fill="#262626" textLength="40.00" lengthAdjust="spacingAndGlyphs" >Neoplastic</text>
<text x="208.60" y="225.10" font-size="6.3" text-anchor="end" fill="#262626" transform="rotate(-90 208.60 224.80)">MMP2</text>
<text x="219.90" y="225.10" font-size="6.3" text-anchor="end" fill="#262626" transform="rotate(-90 219.90 224.80)">COL1A2</text>
<text x="231.20" y="225.10" font-size="6.3" text-anchor="end" fill="#262626" transform="rotate(-90 231.20 224.80)">CNTN1</text>
<text x="242.50" y="225.10" font-size="6.3" text-anchor="end" fill="#262626" transform="rotate(-90 242.50 224.80)">DKK3</text>
<text x="253.80" y="225.10" font-size="6.3" text-anchor="end" fill="#262626" transform="rotate(-90 253.80 224.80)">COL3A1</text>
<text x="265.10" y="225.10" font-size="6.3" text-anchor="end" fill="#262626" transform="rotate(-90 265.10 224.80)">RGCC</text>
<text x="276.40" y="225.10" font-size="6.3" text-anchor="end" fill="#262626" transform="rotate(-90 276.40 224.80)">LCP1</text>
<text x="287.70" y="225.10" font-size="6.3" text-anchor="end" fill="#262626" transform="rotate(-90 287.70 224.80)">CD163</text>
<text x="299.00" y="225.10" font-size="6.3" text-anchor="end" fill="#262626" transform="rotate(-90 299.00 224.80)">SRGN</text>
<text x="310.30" y="225.10" font-size="6.3" text-anchor="end" fill="#262626" transform="rotate(-90 310.30 224.80)">LSP1</text>
<text x="321.60" y="225.10" font-size="6.3" text-anchor="end" fill="#262626" transform="rotate(-90 321.60 224.80)">GPC5</text>
<text x="332.90" y="225.10" font-size="6.3" text-anchor="end" fill="#262626" transform="rotate(-90 332.90 224.80)">KLRG2</text>
<text x="344.20" y="225.10" font-size="6.3" text-anchor="end" fill="#262626" transform="rotate(-90 344.20 224.80)">INHBB</text>
<text x="355.50" y="225.10" font-size="6.3" text-anchor="end" fill="#262626" transform="rotate(-90 355.50 224.80)">WNT6</text>
<text x="366.80" y="225.10" font-size="6.3" text-anchor="end" fill="#262626" transform="rotate(-90 366.80 224.80)">CFAP157</text>
<text x="408.20" y="165.90" font-size="6.3" text-anchor="middle" fill="#262626" textLength="46.30" lengthAdjust="spacingAndGlyphs" >Fraction of cells</text>
<text x="408.10" y="172.00" font-size="6.3" text-anchor="middle" fill="#262626" textLength="36.20" lengthAdjust="spacingAndGlyphs" >in group (%)</text>
<circle cx="387.4" cy="179.80" r="1.3" fill="#808080" stroke="#595959" stroke-width="0.3"/>
<circle cx="396.8" cy="179.80" r="2.1" fill="#808080" stroke="#595959" stroke-width="0.3"/>
<circle cx="406.3" cy="179.80" r="2.9" fill="#808080" stroke="#595959" stroke-width="0.3"/>
<circle cx="415.2" cy="179.80" r="3.7" fill="#808080" stroke="#595959" stroke-width="0.3"/>
<circle cx="425.0" cy="179.80" r="4.5" fill="#808080" stroke="#595959" stroke-width="0.3"/>
<text x="386.90" y="194.60" font-size="6.6" text-anchor="middle" fill="#262626" >20</text>
<text x="396.80" y="194.60" font-size="6.6" text-anchor="middle" fill="#262626" >40</text>
<text x="406.40" y="194.60" font-size="6.6" text-anchor="middle" fill="#262626" >60</text>
<text x="415.40" y="194.60" font-size="6.6" text-anchor="middle" fill="#262626" >80</text>
<text x="424.40" y="194.60" font-size="6.6" text-anchor="middle" fill="#262626" >100</text>
<text x="408.00" y="211.30" font-size="6.6" text-anchor="middle" fill="#262626" textLength="65.70" lengthAdjust="spacingAndGlyphs" >Minmax-scaled scores</text>
<rect x="384.4" y="214.40" width="47.6" height="5.1" fill="url(#reds)" stroke="#dcdcdc" stroke-width="0.5"/>
<line x1="384.4" y1="219.30" x2="384.4" y2="221.30" stroke="#262626" stroke-width="0.5"/>
<text x="384.40" y="229.10" font-size="6.9" text-anchor="middle" fill="#262626" textLength="9.20" lengthAdjust="spacingAndGlyphs" >0.0</text>
<line x1="408.2" y1="219.30" x2="408.2" y2="221.30" stroke="#262626" stroke-width="0.5"/>
<text x="408.20" y="229.10" font-size="6.9" text-anchor="middle" fill="#262626" textLength="9.20" lengthAdjust="spacingAndGlyphs" >0.5</text>
<line x1="432.0" y1="219.30" x2="432.0" y2="221.30" stroke="#262626" stroke-width="0.5"/>
<text x="432.00" y="229.10" font-size="6.9" text-anchor="middle" fill="#262626" textLength="9.20" lengthAdjust="spacingAndGlyphs" >1.0</text>
<text x="454.4" y="5.9" font-size="11.4" fill="#000">e.</text>
<text x="547.90" y="8.90" font-size="8.1" text-anchor="middle" fill="#262626" textLength="81.80" lengthAdjust="spacingAndGlyphs" >Gene score distribution</text>
<text x="549.00" y="16.00" font-size="8.1" text-anchor="middle" fill="#262626" textLength="60.00" lengthAdjust="spacingAndGlyphs" >(min-max scaled)</text>
<line x1="477.5" y1="107.40" x2="617.6" y2="107.40" stroke="#ebebeb" stroke-width="0.8"/>
<text x="475.20" y="110.20" font-size="6.9" text-anchor="end" fill="#262626" textLength="9.40" lengthAdjust="spacingAndGlyphs" >0.0</text>
<line x1="477.5" y1="90.50" x2="617.6" y2="90.50" stroke="#ebebeb" stroke-width="0.8"/>
<text x="475.20" y="93.30" font-size="6.9" text-anchor="end" fill="#262626" textLength="9.40" lengthAdjust="spacingAndGlyphs" >0.2</text>
<line x1="477.5" y1="73.60" x2="617.6" y2="73.60" stroke="#ebebeb" stroke-width="0.8"/>
<text x="475.20" y="76.40" font-size="6.9" text-anchor="end" fill="#262626" textLength="9.40" lengthAdjust="spacingAndGlyphs" >0.4</text>
<line x1="477.5" y1="56.70" x2="617.6" y2="56.70" stroke="#ebebeb" stroke-width="0.8"/>
<text x="475.20" y="59.50" font-size="6.9" text-anchor="end" fill="#262626" textLength="9.40" lengthAdjust="spacingAndGlyphs" >0.6</text>
<line x1="477.5" y1="39.80" x2="617.6" y2="39.80" stroke="#ebebeb" stroke-width="0.8"/>
<text x="475.20" y="42.60" font-size="6.9" text-anchor="end" fill="#262626" textLength="9.40" lengthAdjust="spacingAndGlyphs" >0.8</text>
<line x1="477.5" y1="22.90" x2="617.6" y2="22.90" stroke="#ebebeb" stroke-width="0.8"/>
<text x="475.20" y="25.70" font-size="6.9" text-anchor="end" fill="#262626" textLength="9.40" lengthAdjust="spacingAndGlyphs" >1.0</text>
<path d="M477.5 18.30 V111.40 H617.6" fill="none" stroke="#e6e6e6" stroke-width="0.8"/>
<text x="463.30" y="65.40" font-size="7.5" text-anchor="middle" fill="#262626" textLength="31.00" lengthAdjust="spacingAndGlyphs" transform="rotate(-90 463.30 65.40)" >expression</text>
<text x="501.20" y="119.00" font-size="6.8" text-anchor="middle" fill="#262626" textLength="20.10" lengthAdjust="spacingAndGlyphs" >EPCAM</text>
<text x="548.10" y="119.00" font-size="6.8" text-anchor="middle" fill="#262626" textLength="18.10" lengthAdjust="spacingAndGlyphs" >PTPRC</text>
<text x="595.00" y="119.00" font-size="6.8" text-anchor="middle" fill="#262626" textLength="17.80" lengthAdjust="spacingAndGlyphs" >INHBA</text>
<text x="547.90" y="126.00" font-size="6.8" text-anchor="middle" fill="#262626" textLength="14.20" lengthAdjust="spacingAndGlyphs" >gene</text>
<line x1="488.50" y1="84.50" x2="488.50" y2="62.50" stroke="#4a4a4a" stroke-width="0.9"/>
<line x1="488.50" y1="98.50" x2="488.50" y2="107.50" stroke="#4a4a4a" stroke-width="0.9"/>
<line x1="485.30" y1="107.50" x2="491.70" y2="107.50" stroke="#4a4a4a" stroke-width="0.9"/>
<line x1="485.30" y1="62.50" x2="491.70" y2="62.50" stroke="#4a4a4a" stroke-width="0.9"/>
<rect x="482.50" y="84.50" width="12.00" height="14.00" fill="#57a257" stroke="#3a3a3a" stroke-width="0.9"/>
<line x1="482.50" y1="91.50" x2="494.50" y2="91.50" stroke="#3a3a3a" stroke-width="0.9"/>
<line x1="488.70" y1="62.62" x2="488.70" y2="42.34" stroke="#000" stroke-width="2.9" stroke-linecap="round"/>
<circle cx="488.70" cy="40.64" r="1.2" fill="none" stroke="#000" stroke-width="0.7"/>
<line x1="501.50" y1="92.50" x2="501.50" y2="77.50" stroke="#4a4a4a" stroke-width="0.9"/>
<line x1="501.50" y1="104.50" x2="501.50" y2="107.50" stroke="#4a4a4a" stroke-width="0.9"/>
<line x1="498.30" y1="107.50" x2="504.70" y2="107.50" stroke="#4a4a4a" stroke-width="0.9"/>
<line x1="498.30" y1="77.50" x2="504.70" y2="77.50" stroke="#4a4a4a" stroke-width="0.9"/>
<rect x="494.50" y="92.50" width="13.00" height="12.00" fill="#477ca8" stroke="#3a3a3a" stroke-width="0.9"/>
<line x1="494.50" y1="98.50" x2="507.50" y2="98.50" stroke="#3a3a3a" stroke-width="0.9"/>
<line x1="501.20" y1="77.83" x2="501.20" y2="60.08" stroke="#000" stroke-width="2.9" stroke-linecap="round"/>
<circle cx="501.20" cy="55.86" r="1.2" fill="none" stroke="#000" stroke-width="0.7"/>
<line x1="513.50" y1="66.50" x2="513.50" y2="43.50" stroke="#4a4a4a" stroke-width="0.9"/>
<line x1="513.50" y1="82.50" x2="513.50" y2="105.50" stroke="#4a4a4a" stroke-width="0.9"/>
<line x1="510.30" y1="105.50" x2="516.70" y2="105.50" stroke="#4a4a4a" stroke-width="0.9"/>
<line x1="510.30" y1="43.50" x2="516.70" y2="43.50" stroke="#4a4a4a" stroke-width="0.9"/>
<rect x="507.50" y="66.50" width="12.00" height="16.00" fill="#cb3335" stroke="#3a3a3a" stroke-width="0.9"/>
<line x1="507.50" y1="71.50" x2="519.50" y2="71.50" stroke="#3a3a3a" stroke-width="0.9"/>
<line x1="513.70" y1="43.18" x2="513.70" y2="35.58" stroke="#000" stroke-width="2.9" stroke-linecap="round"/>
<circle cx="513.70" cy="22.90" r="1.2" fill="none" stroke="#000" stroke-width="0.7"/>
<circle cx="513.70" cy="107.40" r="1.2" fill="none" stroke="#000" stroke-width="0.7"/>
<line x1="535.50" y1="84.50" x2="535.50" y2="70.50" stroke="#4a4a4a" stroke-width="0.9"/>
<line x1="535.50" y1="93.50" x2="535.50" y2="107.50" stroke="#4a4a4a" stroke-width="0.9"/>
<line x1="532.30" y1="107.50" x2="538.70" y2="107.50" stroke="#4a4a4a" stroke-width="0.9"/>
<line x1="532.30" y1="70.50" x2="538.70" y2="70.50" stroke="#4a4a4a" stroke-width="0.9"/>
<rect x="529.50" y="84.50" width="12.00" height="9.00" fill="#57a257" stroke="#3a3a3a" stroke-width="0.9"/>
<line x1="529.50" y1="87.50" x2="541.50" y2="87.50" stroke="#3a3a3a" stroke-width="0.9"/>
<line x1="535.60" y1="70.22" x2="535.60" y2="46.56" stroke="#000" stroke-width="2.9" stroke-linecap="round"/>
<circle cx="535.60" cy="41.49" r="1.2" fill="none" stroke="#000" stroke-width="0.7"/>
<circle cx="535.60" cy="107.40" r="1.2" fill="none" stroke="#000" stroke-width="0.7"/>
<line x1="548.50" y1="72.50" x2="548.50" y2="55.50" stroke="#4a4a4a" stroke-width="0.9"/>
<line x1="548.50" y1="83.50" x2="548.50" y2="100.50" stroke="#4a4a4a" stroke-width="0.9"/>
<line x1="545.30" y1="100.50" x2="551.70" y2="100.50" stroke="#4a4a4a" stroke-width="0.9"/>
<line x1="545.30" y1="55.50" x2="551.70" y2="55.50" stroke="#4a4a4a" stroke-width="0.9"/>
<rect x="541.50" y="72.50" width="13.00" height="11.00" fill="#477ca8" stroke="#3a3a3a" stroke-width="0.9"/>
<line x1="541.50" y1="78.50" x2="554.50" y2="78.50" stroke="#3a3a3a" stroke-width="0.9"/>
<line x1="548.10" y1="55.86" x2="548.10" y2="31.35" stroke="#000" stroke-width="2.9" stroke-linecap="round"/>
<circle cx="548.10" cy="22.90" r="1.2" fill="none" stroke="#000" stroke-width="0.7"/>
<line x1="548.10" y1="107.40" x2="548.10" y2="101.48" stroke="#000" stroke-width="2.9" stroke-linecap="round"/>
<line x1="560.50" y1="96.50" x2="560.50" y2="84.50" stroke="#4a4a4a" stroke-width="0.9"/>
<line x1="560.50" y1="104.50" x2="560.50" y2="107.50" stroke="#4a4a4a" stroke-width="0.9"/>
<line x1="557.30" y1="107.50" x2="563.70" y2="107.50" stroke="#4a4a4a" stroke-width="0.9"/>
<line x1="557.30" y1="84.50" x2="563.70" y2="84.50" stroke="#4a4a4a" stroke-width="0.9"/>
<rect x="554.50" y="96.50" width="12.00" height="8.00" fill="#cb3335" stroke="#3a3a3a" stroke-width="0.9"/>
<line x1="554.50" y1="101.50" x2="566.50" y2="101.50" stroke="#3a3a3a" stroke-width="0.9"/>
<line x1="560.60" y1="84.59" x2="560.60" y2="65.15" stroke="#000" stroke-width="2.9" stroke-linecap="round"/>
<circle cx="560.60" cy="62.62" r="1.2" fill="none" stroke="#000" stroke-width="0.7"/>
<line x1="582.50" y1="57.50" x2="582.50" y2="33.50" stroke="#4a4a4a" stroke-width="0.9"/>
<line x1="582.50" y1="72.50" x2="582.50" y2="95.50" stroke="#4a4a4a" stroke-width="0.9"/>
<line x1="579.30" y1="95.50" x2="585.70" y2="95.50" stroke="#4a4a4a" stroke-width="0.9"/>
<line x1="579.30" y1="33.50" x2="585.70" y2="33.50" stroke="#4a4a4a" stroke-width="0.9"/>
<rect x="576.50" y="57.50" width="12.00" height="15.00" fill="#57a257" stroke="#3a3a3a" stroke-width="0.9"/>
<line x1="576.50" y1="65.50" x2="588.50" y2="65.50" stroke="#3a3a3a" stroke-width="0.9"/>
<line x1="582.50" y1="33.89" x2="582.50" y2="24.59" stroke="#000" stroke-width="2.9" stroke-linecap="round"/>
<line x1="582.50" y1="107.40" x2="582.50" y2="96.42" stroke="#000" stroke-width="2.9" stroke-linecap="round"/>
<line x1="595.50" y1="69.50" x2="595.50" y2="39.50" stroke="#4a4a4a" stroke-width="0.9"/>
<line x1="595.50" y1="89.50" x2="595.50" y2="107.50" stroke="#4a4a4a" stroke-width="0.9"/>
<line x1="592.30" y1="107.50" x2="598.70" y2="107.50" stroke="#4a4a4a" stroke-width="0.9"/>
<line x1="592.30" y1="39.50" x2="598.70" y2="39.50" stroke="#4a4a4a" stroke-width="0.9"/>
<rect x="588.50" y="69.50" width="13.00" height="20.00" fill="#477ca8" stroke="#3a3a3a" stroke-width="0.9"/>
<line x1="588.50" y1="76.50" x2="601.50" y2="76.50" stroke="#3a3a3a" stroke-width="0.9"/>
<circle cx="595.00" cy="27.97" r="1.2" fill="none" stroke="#000" stroke-width="0.7"/>
<line x1="607.50" y1="71.50" x2="607.50" y2="22.50" stroke="#4a4a4a" stroke-width="0.9"/>
<line x1="607.50" y1="105.50" x2="607.50" y2="107.50" stroke="#4a4a4a" stroke-width="0.9"/>
<line x1="604.30" y1="107.50" x2="610.70" y2="107.50" stroke="#4a4a4a" stroke-width="0.9"/>
<line x1="604.30" y1="22.50" x2="610.70" y2="22.50" stroke="#4a4a4a" stroke-width="0.9"/>
<rect x="601.50" y="71.50" width="12.00" height="34.00" fill="#cb3335" stroke="#3a3a3a" stroke-width="0.9"/>
<line x1="601.50" y1="95.50" x2="613.50" y2="95.50" stroke="#3a3a3a" stroke-width="0.9"/>
<rect x="621.2" y="21.20" width="60.5" height="35.8" rx="1.2" fill="#fff" stroke="#e0e0e0" stroke-width="0.6"/>
<text x="651.45" y="28.60" font-size="6.4" text-anchor="middle" fill="#262626" textLength="14.30" lengthAdjust="spacingAndGlyphs" >class</text>
<rect x="623.0" y="33.10" width="12.4" height="4.3" fill="#57a257" stroke="#3d3d3d" stroke-width="0.6"/>
<text x="640.00" y="37.45" font-size="6.4" text-anchor="start" fill="#262626" textLength="32.90" lengthAdjust="spacingAndGlyphs" >Connective</text>
<rect x="623.0" y="41.70" width="12.4" height="4.3" fill="#477ca8" stroke="#3d3d3d" stroke-width="0.6"/>
<text x="640.00" y="46.05" font-size="6.4" text-anchor="start" fill="#262626" textLength="39.00" lengthAdjust="spacingAndGlyphs" >Inflammatory</text>
<rect x="623.0" y="50.30" width="12.4" height="4.3" fill="#cb3335" stroke="#3d3d3d" stroke-width="0.6"/>
<text x="640.00" y="54.65" font-size="6.4" text-anchor="start" fill="#262626" textLength="30.20" lengthAdjust="spacingAndGlyphs" >Neoplastic</text>
<text x="454.4" y="141.4" font-size="11.4" fill="#000">f.</text>
<text x="547.90" y="142.20" font-size="8.1" text-anchor="middle" fill="#262626" textLength="81.80" lengthAdjust="spacingAndGlyphs" >Gene score distribution</text>
<text x="549.00" y="149.30" font-size="8.1" text-anchor="middle" fill="#262626" textLength="60.00" lengthAdjust="spacingAndGlyphs" >(min-max scaled)</text>
<line x1="477.5" y1="240.70" x2="617.6" y2="240.70" stroke="#ebebeb" stroke-width="0.8"/>
<text x="475.20" y="243.50" font-size="6.9" text-anchor="end" fill="#262626" textLength="9.40" lengthAdjust="spacingAndGlyphs" >0.0</text>
<line x1="477.5" y1="223.80" x2="617.6" y2="223.80" stroke="#ebebeb" stroke-width="0.8"/>
<text x="475.20" y="226.60" font-size="6.9" text-anchor="end" fill="#262626" textLength="9.40" lengthAdjust="spacingAndGlyphs" >0.2</text>
<line x1="477.5" y1="206.90" x2="617.6" y2="206.90" stroke="#ebebeb" stroke-width="0.8"/>
<text x="475.20" y="209.70" font-size="6.9" text-anchor="end" fill="#262626" textLength="9.40" lengthAdjust="spacingAndGlyphs" >0.4</text>
<line x1="477.5" y1="190.00" x2="617.6" y2="190.00" stroke="#ebebeb" stroke-width="0.8"/>
<text x="475.20" y="192.80" font-size="6.9" text-anchor="end" fill="#262626" textLength="9.40" lengthAdjust="spacingAndGlyphs" >0.6</text>
<line x1="477.5" y1="173.10" x2="617.6" y2="173.10" stroke="#ebebeb" stroke-width="0.8"/>
<text x="475.20" y="175.90" font-size="6.9" text-anchor="end" fill="#262626" textLength="9.40" lengthAdjust="spacingAndGlyphs" >0.8</text>
<line x1="477.5" y1="156.20" x2="617.6" y2="156.20" stroke="#ebebeb" stroke-width="0.8"/>
<text x="475.20" y="159.00" font-size="6.9" text-anchor="end" fill="#262626" textLength="9.40" lengthAdjust="spacingAndGlyphs" >1.0</text>
<path d="M477.5 151.60 V244.70 H617.6" fill="none" stroke="#e6e6e6" stroke-width="0.8"/>
<text x="463.30" y="198.70" font-size="7.5" text-anchor="middle" fill="#262626" textLength="31.00" lengthAdjust="spacingAndGlyphs" transform="rotate(-90 463.30 198.70)" >expression</text>
<text x="501.20" y="252.30" font-size="6.8" text-anchor="middle" fill="#262626" textLength="15.50" lengthAdjust="spacingAndGlyphs" >CDH1</text>
<text x="548.10" y="252.30" font-size="6.8" text-anchor="middle" fill="#262626" textLength="16.00" lengthAdjust="spacingAndGlyphs" >CD3E</text>
<text x="595.00" y="252.30" font-size="6.8" text-anchor="middle" fill="#262626" textLength="23.00" lengthAdjust="spacingAndGlyphs" >COL1A2</text>
<text x="547.90" y="259.30" font-size="6.8" text-anchor="middle" fill="#262626" textLength="14.20" lengthAdjust="spacingAndGlyphs" >gene</text>
<line x1="488.50" y1="219.50" x2="488.50" y2="199.50" stroke="#4a4a4a" stroke-width="0.9"/>
<line x1="488.50" y1="233.50" x2="488.50" y2="240.50" stroke="#4a4a4a" stroke-width="0.9"/>
<line x1="485.30" y1="240.50" x2="491.70" y2="240.50" stroke="#4a4a4a" stroke-width="0.9"/>
<line x1="485.30" y1="199.50" x2="491.70" y2="199.50" stroke="#4a4a4a" stroke-width="0.9"/>
<rect x="482.50" y="219.50" width="12.00" height="14.00" fill="#57a257" stroke="#3a3a3a" stroke-width="0.9"/>
<line x1="482.50" y1="227.50" x2="494.50" y2="227.50" stroke="#3a3a3a" stroke-width="0.9"/>
<line x1="488.70" y1="199.30" x2="488.70" y2="173.94" stroke="#000" stroke-width="2.9" stroke-linecap="round"/>
<circle cx="488.70" cy="171.41" r="1.2" fill="none" stroke="#000" stroke-width="0.7"/>
<line x1="501.50" y1="219.50" x2="501.50" y2="192.50" stroke="#4a4a4a" stroke-width="0.9"/>
<line x1="501.50" y1="237.50" x2="501.50" y2="240.50" stroke="#4a4a4a" stroke-width="0.9"/>
<line x1="498.30" y1="240.50" x2="504.70" y2="240.50" stroke="#4a4a4a" stroke-width="0.9"/>
<line x1="498.30" y1="192.50" x2="504.70" y2="192.50" stroke="#4a4a4a" stroke-width="0.9"/>
<rect x="494.50" y="219.50" width="13.00" height="18.00" fill="#477ca8" stroke="#3a3a3a" stroke-width="0.9"/>
<line x1="494.50" y1="229.50" x2="507.50" y2="229.50" stroke="#3a3a3a" stroke-width="0.9"/>
<line x1="501.20" y1="192.54" x2="501.20" y2="174.79" stroke="#000" stroke-width="2.9" stroke-linecap="round"/>
<circle cx="501.20" cy="173.10" r="1.2" fill="none" stroke="#000" stroke-width="0.7"/>
<line x1="513.50" y1="205.50" x2="513.50" y2="179.50" stroke="#4a4a4a" stroke-width="0.9"/>
<line x1="513.50" y1="222.50" x2="513.50" y2="240.50" stroke="#4a4a4a" stroke-width="0.9"/>
<line x1="510.30" y1="240.50" x2="516.70" y2="240.50" stroke="#4a4a4a" stroke-width="0.9"/>
<line x1="510.30" y1="179.50" x2="516.70" y2="179.50" stroke="#4a4a4a" stroke-width="0.9"/>
<rect x="507.50" y="205.50" width="12.00" height="17.00" fill="#cb3335" stroke="#3a3a3a" stroke-width="0.9"/>
<line x1="507.50" y1="213.50" x2="519.50" y2="213.50" stroke="#3a3a3a" stroke-width="0.9"/>
<line x1="513.70" y1="179.86" x2="513.70" y2="162.12" stroke="#000" stroke-width="2.9" stroke-linecap="round"/>
<circle cx="513.70" cy="156.20" r="1.2" fill="none" stroke="#000" stroke-width="0.7"/>
<line x1="535.50" y1="213.50" x2="535.50" y2="173.50" stroke="#4a4a4a" stroke-width="0.9"/>
<line x1="535.50" y1="239.50" x2="535.50" y2="240.50" stroke="#4a4a4a" stroke-width="0.9"/>
<line x1="532.30" y1="240.50" x2="538.70" y2="240.50" stroke="#4a4a4a" stroke-width="0.9"/>
<line x1="532.30" y1="173.50" x2="538.70" y2="173.50" stroke="#4a4a4a" stroke-width="0.9"/>
<rect x="529.50" y="213.50" width="12.00" height="26.00" fill="#57a257" stroke="#3a3a3a" stroke-width="0.9"/>
<line x1="529.50" y1="227.50" x2="541.50" y2="227.50" stroke="#3a3a3a" stroke-width="0.9"/>
<line x1="535.60" y1="173.94" x2="535.60" y2="157.89" stroke="#000" stroke-width="2.9" stroke-linecap="round"/>
<line x1="548.50" y1="190.50" x2="548.50" y2="156.50" stroke="#4a4a4a" stroke-width="0.9"/>
<line x1="548.50" y1="221.50" x2="548.50" y2="240.50" stroke="#4a4a4a" stroke-width="0.9"/>
<line x1="545.30" y1="240.50" x2="551.70" y2="240.50" stroke="#4a4a4a" stroke-width="0.9"/>
<line x1="545.30" y1="156.50" x2="551.70" y2="156.50" stroke="#4a4a4a" stroke-width="0.9"/>
<rect x="541.50" y="190.50" width="13.00" height="31.00" fill="#477ca8" stroke="#3a3a3a" stroke-width="0.9"/>
<line x1="541.50" y1="203.50" x2="554.50" y2="203.50" stroke="#3a3a3a" stroke-width="0.9"/>
<line x1="560.50" y1="232.50" x2="560.50" y2="218.50" stroke="#4a4a4a" stroke-width="0.9"/>
<line x1="560.50" y1="240.50" x2="560.50" y2="240.50" stroke="#4a4a4a" stroke-width="0.9"/>
<line x1="557.30" y1="240.50" x2="563.70" y2="240.50" stroke="#4a4a4a" stroke-width="0.9"/>
<line x1="557.30" y1="218.50" x2="563.70" y2="218.50" stroke="#4a4a4a" stroke-width="0.9"/>
<rect x="554.50" y="232.50" width="12.00" height="8.00" fill="#cb3335" stroke="#3a3a3a" stroke-width="0.9"/>
<line x1="554.50" y1="240.50" x2="566.50" y2="240.50" stroke="#3a3a3a" stroke-width="0.9"/>
<line x1="560.60" y1="218.73" x2="560.60" y2="158.74" stroke="#000" stroke-width="2.9" stroke-linecap="round"/>
<circle cx="560.60" cy="156.20" r="1.2" fill="none" stroke="#000" stroke-width="0.7"/>
<line x1="582.50" y1="184.50" x2="582.50" y2="158.50" stroke="#4a4a4a" stroke-width="0.9"/>
<line x1="582.50" y1="202.50" x2="582.50" y2="228.50" stroke="#4a4a4a" stroke-width="0.9"/>
<line x1="579.30" y1="228.50" x2="585.70" y2="228.50" stroke="#4a4a4a" stroke-width="0.9"/>
<line x1="579.30" y1="158.50" x2="585.70" y2="158.50" stroke="#4a4a4a" stroke-width="0.9"/>
<rect x="576.50" y="184.50" width="12.00" height="18.00" fill="#57a257" stroke="#3a3a3a" stroke-width="0.9"/>
<line x1="576.50" y1="192.50" x2="588.50" y2="192.50" stroke="#3a3a3a" stroke-width="0.9"/>
<circle cx="582.50" cy="157.05" r="1.2" fill="none" stroke="#000" stroke-width="0.7"/>
<line x1="582.50" y1="240.70" x2="582.50" y2="228.03" stroke="#000" stroke-width="2.9" stroke-linecap="round"/>
<line x1="595.50" y1="198.50" x2="595.50" y2="167.50" stroke="#4a4a4a" stroke-width="0.9"/>
<line x1="595.50" y1="219.50" x2="595.50" y2="240.50" stroke="#4a4a4a" stroke-width="0.9"/>
<line x1="592.30" y1="240.50" x2="598.70" y2="240.50" stroke="#4a4a4a" stroke-width="0.9"/>
<line x1="592.30" y1="167.50" x2="598.70" y2="167.50" stroke="#4a4a4a" stroke-width="0.9"/>
<rect x="588.50" y="198.50" width="13.00" height="21.00" fill="#477ca8" stroke="#3a3a3a" stroke-width="0.9"/>
<line x1="588.50" y1="207.50" x2="601.50" y2="207.50" stroke="#3a3a3a" stroke-width="0.9"/>
<circle cx="595.00" cy="166.34" r="1.2" fill="none" stroke="#000" stroke-width="0.7"/>
<line x1="607.50" y1="219.50" x2="607.50" y2="201.50" stroke="#4a4a4a" stroke-width="0.9"/>
<line x1="607.50" y1="233.50" x2="607.50" y2="240.50" stroke="#4a4a4a" stroke-width="0.9"/>
<line x1="604.30" y1="240.50" x2="610.70" y2="240.50" stroke="#4a4a4a" stroke-width="0.9"/>
<line x1="604.30" y1="201.50" x2="610.70" y2="201.50" stroke="#4a4a4a" stroke-width="0.9"/>
<rect x="601.50" y="219.50" width="12.00" height="14.00" fill="#cb3335" stroke="#3a3a3a" stroke-width="0.9"/>
<line x1="601.50" y1="226.50" x2="613.50" y2="226.50" stroke="#3a3a3a" stroke-width="0.9"/>
<line x1="607.50" y1="201.41" x2="607.50" y2="170.57" stroke="#000" stroke-width="2.9" stroke-linecap="round"/>
<circle cx="607.50" cy="166.34" r="1.2" fill="none" stroke="#000" stroke-width="0.7"/>
<rect x="621.2" y="154.50" width="60.5" height="35.8" rx="1.2" fill="#fff" stroke="#e0e0e0" stroke-width="0.6"/>
<text x="651.45" y="161.90" font-size="6.4" text-anchor="middle" fill="#262626" textLength="14.30" lengthAdjust="spacingAndGlyphs" >class</text>
<rect x="623.0" y="166.40" width="12.4" height="4.3" fill="#57a257" stroke="#3d3d3d" stroke-width="0.6"/>
<text x="640.00" y="170.75" font-size="6.4" text-anchor="start" fill="#262626" textLength="32.90" lengthAdjust="spacingAndGlyphs" >Connective</text>
<rect x="623.0" y="175.00" width="12.4" height="4.3" fill="#477ca8" stroke="#3d3d3d" stroke-width="0.6"/>
<text x="640.00" y="179.35" font-size="6.4" text-anchor="start" fill="#262626" textLength="39.00" lengthAdjust="spacingAndGlyphs" >Inflammatory</text>
<rect x="623.0" y="183.60" width="12.4" height="4.3" fill="#cb3335" stroke="#3d3d3d" stroke-width="0.6"/>
<text x="640.00" y="187.95" font-size="6.4" text-anchor="start" fill="#262626" textLength="30.20" lengthAdjust="spacingAndGlyphs" >Neoplastic</text>
</svg>
</body></html>
